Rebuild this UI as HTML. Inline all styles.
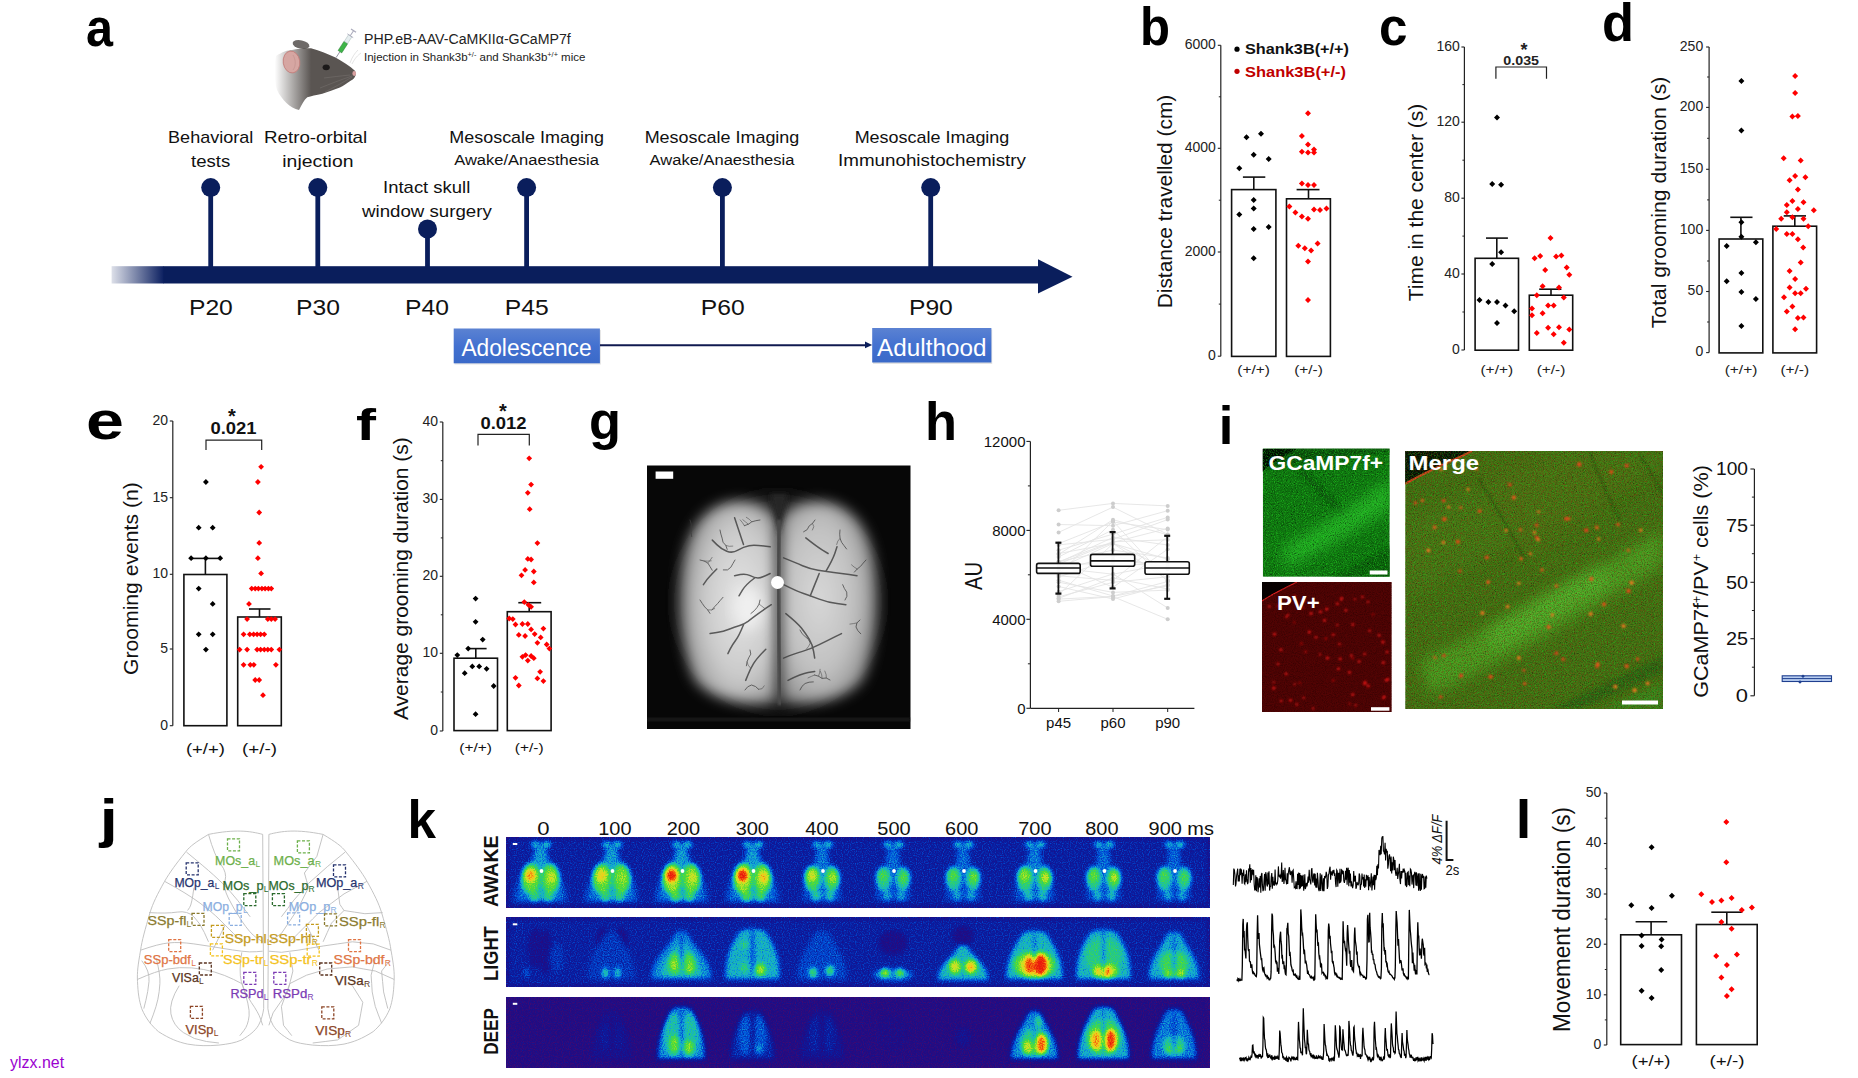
<!DOCTYPE html>
<html><head><meta charset="utf-8"><style>
html,body{margin:0;padding:0;background:#fff;width:1858px;height:1078px;overflow:hidden}
svg{display:block;font-family:"Liberation Sans", sans-serif}
</style></head><body>
<svg width="1858" height="1078" viewBox="0 0 1858 1078">
<text x="86.0" y="46.0" font-size="54" font-weight="bold" textLength="27.0" lengthAdjust="spacingAndGlyphs">a</text>
<defs>
<radialGradient id="mouseg" cx="0.55" cy="0.45" r="0.6"><stop offset="0" stop-color="#5d5a58"/><stop offset="0.7" stop-color="#4a4746"/><stop offset="1" stop-color="#9a9896"/></radialGradient>
<linearGradient id="mfade" x1="0" y1="0" x2="1" y2="0"><stop offset="0" stop-color="#fff" stop-opacity="1"/><stop offset="0.35" stop-color="#fff" stop-opacity="0"/></linearGradient>
<linearGradient id="barg" x1="0" y1="0" x2="1" y2="0"><stop offset="0" stop-color="#0b1f60" stop-opacity="0.14"/><stop offset="1" stop-color="#0b1f60" stop-opacity="1"/></linearGradient>
<linearGradient id="boxg" x1="0" y1="0" x2="0" y2="1"><stop offset="0" stop-color="#5b82d2"/><stop offset="0.5" stop-color="#4371d0"/><stop offset="1" stop-color="#3a69c8"/></linearGradient>
</defs>
<defs><linearGradient id="mfade2" x1="0" y1="0" x2="1" y2="0"><stop offset="0" stop-color="#5a5552" stop-opacity="0"/><stop offset="0.45" stop-color="#5a5552" stop-opacity="1"/></linearGradient></defs>
<ellipse cx="301" cy="44.5" rx="8.5" ry="4.2" fill="#6e6a68" transform="rotate(12 301 44.5)"/>
<path d="M276 56 C282 52 288 50 292 50 C298 48.5 305 48 311 48.3 C320 51 328 54 335.5 57.6 C343 62 350 66 354.9 70.8 C356 72.5 356 75 355.3 76 C354.5 78 353 79.5 351 80.5 C347 83 343 86 339.9 87.6 C334 90 328 92 322.3 93.7 C316 95 311 96 307.3 97.2 C304 100 302 104 299 110 C290 108 282 100 277 90 C274 80 274 65 276 56 Z" fill="url(#mfade2)"/>
<ellipse cx="291.5" cy="62" rx="8.3" ry="11" fill="#d6a6a2" stroke="#c07a76" stroke-width="0.8" transform="rotate(-8 291.5 62)"/>
<path d="M293 55 C296 60 296 66 293 70" stroke="#c49490" stroke-width="0.8" fill="none"/>
<ellipse cx="326.2" cy="67.3" rx="3.6" ry="2.9" fill="#1c1a1a"/>
<ellipse cx="354.2" cy="73.5" rx="1.8" ry="2.4" fill="#d9a0a0"/>
<g stroke="#8a8684" stroke-width="0.4" fill="none" opacity="0.8"><path d="M352 76 C340 80 330 84 320 88"/><path d="M352 77 C342 83 333 88 325 92"/><path d="M350 75 C340 76 332 77 324 78"/></g>
<g stroke="#c8c8c8" stroke-width="0.5" fill="none"><path d="M350 63 C352 57 355 53 358 50"/><path d="M352 64 C355 58 358 55 361 53"/></g>
<g transform="translate(-3 6) rotate(33 344 44)"><rect x="341.8" y="35" width="4.4" height="11" fill="#3db548" stroke="#2a6a30" stroke-width="0.4"/><rect x="342" y="27" width="4" height="8" fill="#e6eef0" stroke="#9aa" stroke-width="0.4"/><line x1="344" y1="46" x2="344" y2="53" stroke="#778" stroke-width="0.7"/><line x1="344" y1="21" x2="344" y2="27" stroke="#aab" stroke-width="1"/><line x1="341" y1="21" x2="347" y2="21" stroke="#aab" stroke-width="1.2"/><line x1="340.5" y1="27" x2="347.5" y2="27" stroke="#aab" stroke-width="0.8"/></g>
<text x="364.0" y="44.2" font-size="14" fill="#222" textLength="206.8" lengthAdjust="spacingAndGlyphs">PHP.eB-AAV-CaMKIIα-GCaMP7f</text>
<text x="364.0" y="60.6" font-size="11" fill="#222" textLength="221.4" lengthAdjust="spacingAndGlyphs">Injection in Shank3b<tspan font-size="7" dy="-4">+/-</tspan><tspan dy="4"> and Shank3b</tspan><tspan font-size="7" dy="-4">+/+</tspan><tspan dy="4"> mice</tspan></text>
<rect x="111.6" y="266.2" width="52.4" height="17.3" fill="url(#barg)"/>
<rect x="163.5" y="266.2" width="876" height="17.3" fill="#0a1e5c"/>
<path d="M1038 259.2 L1072.5 276.8 L1038 293.4 Z" fill="#0a1e5c"/>
<rect x="208.3" y="187.6" width="4.8" height="79.4" fill="#0a1e5c"/>
<circle cx="210.7" cy="187.6" r="9.5" fill="#0a1e5c"/>
<rect x="315.4" y="187.6" width="4.8" height="79.4" fill="#0a1e5c"/>
<circle cx="317.8" cy="187.6" r="9.5" fill="#0a1e5c"/>
<rect x="425.1" y="229.0" width="4.8" height="38.0" fill="#0a1e5c"/>
<circle cx="427.5" cy="229.0" r="9.5" fill="#0a1e5c"/>
<rect x="524.2" y="187.6" width="4.8" height="79.4" fill="#0a1e5c"/>
<circle cx="526.6" cy="187.6" r="9.5" fill="#0a1e5c"/>
<rect x="720.0" y="187.6" width="4.8" height="79.4" fill="#0a1e5c"/>
<circle cx="722.4" cy="187.6" r="9.5" fill="#0a1e5c"/>
<rect x="928.3" y="187.6" width="4.8" height="79.4" fill="#0a1e5c"/>
<circle cx="930.7" cy="187.6" r="9.5" fill="#0a1e5c"/>
<text x="210.7" y="143.0" font-size="17" text-anchor="middle" fill="#111" textLength="85.2" lengthAdjust="spacingAndGlyphs">Behavioral</text>
<text x="210.7" y="166.7" font-size="17" text-anchor="middle" fill="#111" textLength="39.2" lengthAdjust="spacingAndGlyphs">tests</text>
<text x="315.6" y="143.0" font-size="17" text-anchor="middle" fill="#111" textLength="103.2" lengthAdjust="spacingAndGlyphs">Retro-orbital</text>
<text x="317.9" y="166.7" font-size="17" text-anchor="middle" fill="#111" textLength="71.2" lengthAdjust="spacingAndGlyphs">injection</text>
<text x="426.7" y="193.0" font-size="17" text-anchor="middle" fill="#111" textLength="87.2" lengthAdjust="spacingAndGlyphs">Intact skull</text>
<text x="426.9" y="216.9" font-size="17" text-anchor="middle" fill="#111" textLength="129.8" lengthAdjust="spacingAndGlyphs">window surgery</text>
<text x="526.6" y="142.8" font-size="17" text-anchor="middle" fill="#111" textLength="154.7" lengthAdjust="spacingAndGlyphs">Mesoscale Imaging</text>
<text x="526.6" y="165.0" font-size="15.5" text-anchor="middle" fill="#111" textLength="144.8" lengthAdjust="spacingAndGlyphs">Awake/Anaesthesia</text>
<text x="722.0" y="142.8" font-size="17" text-anchor="middle" fill="#111" textLength="154.7" lengthAdjust="spacingAndGlyphs">Mesoscale Imaging</text>
<text x="722.0" y="165.0" font-size="15.5" text-anchor="middle" fill="#111" textLength="144.8" lengthAdjust="spacingAndGlyphs">Awake/Anaesthesia</text>
<text x="932.0" y="142.8" font-size="17" text-anchor="middle" fill="#111" textLength="154.7" lengthAdjust="spacingAndGlyphs">Mesoscale Imaging</text>
<text x="932.0" y="165.5" font-size="17" text-anchor="middle" fill="#111" textLength="188.0" lengthAdjust="spacingAndGlyphs">Immunohistochemistry</text>
<text x="210.9" y="315.0" font-size="22" text-anchor="middle" fill="#111" textLength="43.9" lengthAdjust="spacingAndGlyphs">P20</text>
<text x="318.0" y="315.0" font-size="22" text-anchor="middle" fill="#111" textLength="43.9" lengthAdjust="spacingAndGlyphs">P30</text>
<text x="427.0" y="315.0" font-size="22" text-anchor="middle" fill="#111" textLength="43.9" lengthAdjust="spacingAndGlyphs">P40</text>
<text x="526.8" y="315.0" font-size="22" text-anchor="middle" fill="#111" textLength="43.9" lengthAdjust="spacingAndGlyphs">P45</text>
<text x="722.7" y="315.0" font-size="22" text-anchor="middle" fill="#111" textLength="43.9" lengthAdjust="spacingAndGlyphs">P60</text>
<text x="930.9" y="315.0" font-size="22" text-anchor="middle" fill="#111" textLength="43.9" lengthAdjust="spacingAndGlyphs">P90</text>
<rect x="454.5" y="330" width="146.4" height="34.5" fill="#c8c8c8" opacity="0.5"/>
<rect x="453.7" y="328.5" width="146.2" height="34.8" fill="url(#boxg)"/>
<text x="526.5" y="356.3" font-size="23" text-anchor="middle" fill="#fff" textLength="130.1" lengthAdjust="spacingAndGlyphs">Adolescence</text>
<rect x="873" y="329.5" width="119.2" height="34.5" fill="#c8c8c8" opacity="0.5"/>
<rect x="872.2" y="328" width="119.2" height="34.5" fill="url(#boxg)"/>
<text x="931.8" y="356.0" font-size="23" text-anchor="middle" fill="#fff" textLength="109.4" lengthAdjust="spacingAndGlyphs">Adulthood</text>
<line x1="600.0" y1="345.2" x2="866.0" y2="345.2" stroke="#101a50" stroke-width="1.9"/>
<path d="M865 341.5 L872.2 344.9 L865 348.3 Z" fill="#0a1e5c"/>
<text x="1140.0" y="45.0" font-size="54" font-weight="bold" textLength="30.0" lengthAdjust="spacingAndGlyphs">b</text>
<line x1="1220.8" y1="45.3" x2="1220.8" y2="356.2" stroke="#222" stroke-width="1.2"/>
<line x1="1217.8" y1="45.3" x2="1220.8" y2="45.3" stroke="#222" stroke-width="1.1"/>
<text x="1215.8" y="49.1" font-size="14" text-anchor="end" fill="#222">6000</text>
<line x1="1217.8" y1="148.3" x2="1220.8" y2="148.3" stroke="#222" stroke-width="1.1"/>
<text x="1215.8" y="152.1" font-size="14" text-anchor="end" fill="#222">4000</text>
<line x1="1217.8" y1="252.0" x2="1220.8" y2="252.0" stroke="#222" stroke-width="1.1"/>
<text x="1215.8" y="255.8" font-size="14" text-anchor="end" fill="#222">2000</text>
<line x1="1217.8" y1="356.2" x2="1220.8" y2="356.2" stroke="#222" stroke-width="1.1"/>
<text x="1215.8" y="360.0" font-size="14" text-anchor="end" fill="#222">0</text>
<line x1="1218.8" y1="96.8" x2="1220.8" y2="96.8" stroke="#222" stroke-width="1"/>
<line x1="1218.8" y1="200.2" x2="1220.8" y2="200.2" stroke="#222" stroke-width="1"/>
<line x1="1218.8" y1="304.1" x2="1220.8" y2="304.1" stroke="#222" stroke-width="1"/>
<rect x="1231.6" y="189.6" width="44.3" height="166.8" fill="#fff" stroke="#111" stroke-width="1.6"/>
<line x1="1253.8" y1="177.1" x2="1253.8" y2="189.6" stroke="#111" stroke-width="1.6"/>
<line x1="1242.9" y1="177.1" x2="1265.3" y2="177.1" stroke="#111" stroke-width="1.6"/>
<rect x="1286.5" y="198.8" width="43.9" height="157.6" fill="#fff" stroke="#111" stroke-width="1.6"/>
<line x1="1308.5" y1="189.6" x2="1308.5" y2="198.8" stroke="#111" stroke-width="1.6"/>
<line x1="1296.6" y1="189.6" x2="1319.5" y2="189.6" stroke="#111" stroke-width="1.6"/>
<path d="M1246.5 134.3L1249.5 137.3L1246.5 140.3L1243.5 137.3ZM1261.0 130.7L1264.0 133.7L1261.0 136.7L1258.0 133.7ZM1253.7 151.7L1256.7 154.7L1253.7 157.7L1250.7 154.7ZM1268.7 156.0L1271.7 159.0L1268.7 162.0L1265.7 159.0ZM1239.3 165.2L1242.3 168.2L1239.3 171.2L1236.3 168.2ZM1253.7 197.0L1256.7 200.0L1253.7 203.0L1250.7 200.0ZM1253.7 205.4L1256.7 208.4L1253.7 211.4L1250.7 208.4ZM1239.3 211.5L1242.3 214.5L1239.3 217.5L1236.3 214.5ZM1253.7 225.9L1256.7 228.9L1253.7 231.9L1250.7 228.9ZM1268.7 224.0L1271.7 227.0L1268.7 230.0L1265.7 227.0ZM1253.7 255.3L1256.7 258.3L1253.7 261.3L1250.7 258.3Z" fill="#000"/>
<path d="M1308.0 110.3L1311.0 113.3L1308.0 116.3L1305.0 113.3ZM1301.9 133.1L1304.9 136.1L1301.9 139.1L1298.9 136.1ZM1308.0 141.6L1311.0 144.6L1308.0 147.6L1305.0 144.6ZM1314.0 146.4L1317.0 149.4L1314.0 152.4L1311.0 149.4ZM1301.9 148.8L1304.9 151.8L1301.9 154.8L1298.9 151.8ZM1308.0 149.5L1311.0 152.5L1308.0 155.5L1305.0 152.5ZM1314.0 149.5L1317.0 152.5L1314.0 155.5L1311.0 152.5ZM1301.9 180.6L1304.9 183.6L1301.9 186.6L1298.9 183.6ZM1308.0 182.1L1311.0 185.1L1308.0 188.1L1305.0 185.1ZM1314.0 182.1L1317.0 185.1L1314.0 188.1L1311.0 185.1ZM1289.4 203.5L1292.4 206.5L1289.4 209.5L1286.4 206.5ZM1295.4 209.5L1298.4 212.5L1295.4 215.5L1292.4 212.5ZM1301.9 213.4L1304.9 216.4L1301.9 219.4L1298.9 216.4ZM1308.0 215.8L1311.0 218.8L1308.0 221.8L1305.0 218.8ZM1314.0 206.6L1317.0 209.6L1314.0 212.6L1311.0 209.6ZM1320.0 207.1L1323.0 210.1L1320.0 213.1L1317.0 210.1ZM1326.5 205.4L1329.5 208.4L1326.5 211.4L1323.5 208.4ZM1298.3 242.8L1301.3 245.8L1298.3 248.8L1295.3 245.8ZM1304.8 245.2L1307.8 248.2L1304.8 251.2L1301.8 248.2ZM1311.1 247.6L1314.1 250.6L1311.1 253.6L1308.1 250.6ZM1317.6 240.4L1320.6 243.4L1317.6 246.4L1314.6 243.4ZM1308.0 258.4L1311.0 261.4L1308.0 264.4L1305.0 261.4ZM1308.0 297.0L1311.0 300.0L1308.0 303.0L1305.0 300.0Z" fill="#f00"/>
<text x="1253.7" y="374.3" font-size="13" text-anchor="middle" fill="#222" textLength="32.7" lengthAdjust="spacingAndGlyphs">(+/+)</text>
<text x="1308.5" y="374.3" font-size="13" text-anchor="middle" fill="#222" textLength="28.7" lengthAdjust="spacingAndGlyphs">(+/-)</text>
<text x="1172.0" y="201.5" font-size="20" text-anchor="middle" fill="#111" textLength="213.6" lengthAdjust="spacingAndGlyphs" transform="rotate(-90 1172.0 201.5)">Distance travelled (cm)</text>
<circle cx="1237" cy="49.2" r="2.6" fill="#000"/><circle cx="1237" cy="71.3" r="2.6" fill="#c00000"/>
<text x="1245.0" y="54.0" font-size="15" font-weight="bold" fill="#111" textLength="104.0" lengthAdjust="spacingAndGlyphs">Shank3B(+/+)</text>
<text x="1245.0" y="76.5" font-size="15" font-weight="bold" fill="#c00000" textLength="101.0" lengthAdjust="spacingAndGlyphs">Shank3B(+/-)</text>
<text x="1379.0" y="45.0" font-size="54" font-weight="bold" textLength="28.5" lengthAdjust="spacingAndGlyphs">c</text>
<line x1="1464.4" y1="47.0" x2="1464.4" y2="350.0" stroke="#222" stroke-width="1.2"/>
<line x1="1461.4" y1="47.0" x2="1464.4" y2="47.0" stroke="#222" stroke-width="1.1"/>
<text x="1459.8" y="50.8" font-size="14" text-anchor="end" fill="#222">160</text>
<line x1="1461.4" y1="122.2" x2="1464.4" y2="122.2" stroke="#222" stroke-width="1.1"/>
<text x="1459.8" y="126.0" font-size="14" text-anchor="end" fill="#222">120</text>
<line x1="1461.4" y1="198.2" x2="1464.4" y2="198.2" stroke="#222" stroke-width="1.1"/>
<text x="1459.8" y="202.0" font-size="14" text-anchor="end" fill="#222">80</text>
<line x1="1461.4" y1="274.0" x2="1464.4" y2="274.0" stroke="#222" stroke-width="1.1"/>
<text x="1459.8" y="277.8" font-size="14" text-anchor="end" fill="#222">40</text>
<line x1="1461.4" y1="350.0" x2="1464.4" y2="350.0" stroke="#222" stroke-width="1.1"/>
<text x="1459.8" y="353.8" font-size="14" text-anchor="end" fill="#222">0</text>
<line x1="1462.4" y1="84.6" x2="1464.4" y2="84.6" stroke="#222" stroke-width="1"/>
<line x1="1462.4" y1="160.2" x2="1464.4" y2="160.2" stroke="#222" stroke-width="1"/>
<line x1="1462.4" y1="236.1" x2="1464.4" y2="236.1" stroke="#222" stroke-width="1"/>
<line x1="1462.4" y1="312.0" x2="1464.4" y2="312.0" stroke="#222" stroke-width="1"/>
<rect x="1475.1" y="258.3" width="43.4" height="91.9" fill="#fff" stroke="#111" stroke-width="1.6"/>
<line x1="1496.8" y1="238.1" x2="1496.8" y2="258.3" stroke="#111" stroke-width="1.6"/>
<line x1="1486.0" y1="238.1" x2="1507.9" y2="238.1" stroke="#111" stroke-width="1.6"/>
<rect x="1529.3" y="295.2" width="43.4" height="55.0" fill="#fff" stroke="#111" stroke-width="1.6"/>
<line x1="1551.0" y1="289.2" x2="1551.0" y2="295.2" stroke="#111" stroke-width="1.6"/>
<line x1="1539.2" y1="289.2" x2="1561.4" y2="289.2" stroke="#111" stroke-width="1.6"/>
<path d="M1497.0 114.6L1500.0 117.6L1497.0 120.6L1494.0 117.6ZM1492.2 180.9L1495.2 183.9L1492.2 186.9L1489.2 183.9ZM1501.1 181.8L1504.1 184.8L1501.1 187.8L1498.1 184.8ZM1501.1 249.3L1504.1 252.3L1501.1 255.3L1498.1 252.3ZM1492.2 260.9L1495.2 263.9L1492.2 266.9L1489.2 263.9ZM1479.5 297.0L1482.5 300.0L1479.5 303.0L1476.5 300.0ZM1488.4 298.9L1491.4 301.9L1488.4 304.9L1485.4 301.9ZM1497.0 298.9L1500.0 301.9L1497.0 304.9L1494.0 301.9ZM1505.5 302.5L1508.5 305.5L1505.5 308.5L1502.5 305.5ZM1514.2 308.3L1517.2 311.3L1514.2 314.3L1511.2 311.3ZM1497.0 319.9L1500.0 322.9L1497.0 325.9L1494.0 322.9Z" fill="#000"/>
<path d="M1550.5 235.1L1553.5 238.1L1550.5 241.1L1547.5 238.1ZM1534.6 255.3L1537.6 258.3L1534.6 261.3L1531.6 258.3ZM1540.2 253.1L1543.2 256.1L1540.2 259.1L1537.2 256.1ZM1556.1 253.6L1559.1 256.6L1556.1 259.6L1553.1 256.6ZM1561.4 252.4L1564.4 255.4L1561.4 258.4L1558.4 255.4ZM1545.2 266.9L1548.2 269.9L1545.2 272.9L1542.2 269.9ZM1566.7 264.5L1569.7 267.5L1566.7 270.5L1563.7 267.5ZM1569.3 271.7L1572.3 274.7L1569.3 277.7L1566.3 274.7ZM1542.6 283.3L1545.6 286.3L1542.6 289.3L1539.6 286.3ZM1559.0 284.5L1562.0 287.5L1559.0 290.5L1556.0 287.5ZM1536.8 292.2L1539.8 295.2L1536.8 298.2L1533.8 295.2ZM1563.8 294.6L1566.8 297.6L1563.8 300.6L1560.8 297.6ZM1548.1 302.5L1551.1 305.5L1548.1 308.5L1545.1 305.5ZM1553.7 302.5L1556.7 305.5L1553.7 308.5L1550.7 305.5ZM1532.0 305.4L1535.0 308.4L1532.0 311.4L1529.0 308.4ZM1532.0 312.2L1535.0 315.2L1532.0 318.2L1529.0 315.2ZM1542.6 310.3L1545.6 313.3L1542.6 316.3L1539.6 313.3ZM1548.1 324.7L1551.1 327.7L1548.1 330.7L1545.1 327.7ZM1559.0 324.2L1562.0 327.2L1559.0 330.2L1556.0 327.2ZM1569.3 326.4L1572.3 329.4L1569.3 332.4L1566.3 329.4ZM1536.8 330.0L1539.8 333.0L1536.8 336.0L1533.8 333.0ZM1553.7 331.2L1556.7 334.2L1553.7 337.2L1550.7 334.2ZM1563.8 339.7L1566.8 342.7L1563.8 345.7L1560.8 342.7Z" fill="#f00"/>
<text x="1496.8" y="374.3" font-size="13" text-anchor="middle" fill="#222" textLength="32.7" lengthAdjust="spacingAndGlyphs">(+/+)</text>
<text x="1551.0" y="374.3" font-size="13" text-anchor="middle" fill="#222" textLength="28.7" lengthAdjust="spacingAndGlyphs">(+/-)</text>
<text x="1422.5" y="202.5" font-size="20" text-anchor="middle" fill="#111" textLength="197.6" lengthAdjust="spacingAndGlyphs" transform="rotate(-90 1422.5 202.5)">Time in the center (s)</text>
<path d="M1495.9 78.8 V67 H1546.5 V78.8" fill="none" stroke="#222" stroke-width="1.2"/>
<text x="1521.2" y="65.0" font-size="13" text-anchor="middle" font-weight="bold" fill="#222" textLength="35.7" lengthAdjust="spacingAndGlyphs">0.035</text>
<text x="1524.0" y="56.0" font-size="18" text-anchor="middle" font-weight="bold" fill="#222">*</text>
<text x="1602.0" y="40.5" font-size="54" font-weight="bold" textLength="32.0" lengthAdjust="spacingAndGlyphs">d</text>
<line x1="1709.1" y1="47.0" x2="1709.1" y2="352.6" stroke="#222" stroke-width="1.2"/>
<line x1="1706.1" y1="47.0" x2="1709.1" y2="47.0" stroke="#222" stroke-width="1.1"/>
<text x="1703.2" y="50.8" font-size="14" text-anchor="end" fill="#222">250</text>
<line x1="1706.1" y1="107.4" x2="1709.1" y2="107.4" stroke="#222" stroke-width="1.1"/>
<text x="1703.2" y="111.2" font-size="14" text-anchor="end" fill="#222">200</text>
<line x1="1706.1" y1="169.3" x2="1709.1" y2="169.3" stroke="#222" stroke-width="1.1"/>
<text x="1703.2" y="173.1" font-size="14" text-anchor="end" fill="#222">150</text>
<line x1="1706.1" y1="230.4" x2="1709.1" y2="230.4" stroke="#222" stroke-width="1.1"/>
<text x="1703.2" y="234.2" font-size="14" text-anchor="end" fill="#222">100</text>
<line x1="1706.1" y1="291.5" x2="1709.1" y2="291.5" stroke="#222" stroke-width="1.1"/>
<text x="1703.2" y="295.3" font-size="14" text-anchor="end" fill="#222">50</text>
<line x1="1706.1" y1="352.6" x2="1709.1" y2="352.6" stroke="#222" stroke-width="1.1"/>
<text x="1703.2" y="356.4" font-size="14" text-anchor="end" fill="#222">0</text>
<line x1="1707.1" y1="77.0" x2="1709.1" y2="77.0" stroke="#222" stroke-width="1"/>
<line x1="1707.1" y1="138.3" x2="1709.1" y2="138.3" stroke="#222" stroke-width="1"/>
<line x1="1707.1" y1="199.9" x2="1709.1" y2="199.9" stroke="#222" stroke-width="1"/>
<line x1="1707.1" y1="261.0" x2="1709.1" y2="261.0" stroke="#222" stroke-width="1"/>
<line x1="1707.1" y1="322.0" x2="1709.1" y2="322.0" stroke="#222" stroke-width="1"/>
<rect x="1719.1" y="239.0" width="43.7" height="113.9" fill="#fff" stroke="#111" stroke-width="1.6"/>
<line x1="1740.9" y1="217.3" x2="1740.9" y2="239.0" stroke="#111" stroke-width="1.6"/>
<line x1="1730.3" y1="217.3" x2="1752.5" y2="217.3" stroke="#111" stroke-width="1.6"/>
<rect x="1772.9" y="226.2" width="43.7" height="126.7" fill="#fff" stroke="#111" stroke-width="1.6"/>
<line x1="1794.8" y1="215.9" x2="1794.8" y2="226.2" stroke="#111" stroke-width="1.6"/>
<line x1="1783.7" y1="215.9" x2="1806.0" y2="215.9" stroke="#111" stroke-width="1.6"/>
<path d="M1741.4 77.9L1744.4 80.9L1741.4 83.9L1738.4 80.9ZM1741.4 127.4L1744.4 130.4L1741.4 133.4L1738.4 130.4ZM1741.4 219.3L1744.4 222.3L1741.4 225.3L1738.4 222.3ZM1741.4 233.8L1744.4 236.8L1741.4 239.8L1738.4 236.8ZM1726.7 243.0L1729.7 246.0L1726.7 249.0L1723.7 246.0ZM1755.9 239.3L1758.9 242.3L1755.9 245.3L1752.9 242.3ZM1741.4 270.0L1744.4 273.0L1741.4 276.0L1738.4 273.0ZM1726.7 278.3L1729.7 281.3L1726.7 284.3L1723.7 281.3ZM1741.4 288.9L1744.4 291.9L1741.4 294.9L1738.4 291.9ZM1755.9 295.9L1758.9 298.9L1755.9 301.9L1752.9 298.9ZM1741.4 322.9L1744.4 325.9L1741.4 328.9L1738.4 325.9Z" fill="#000"/>
<path d="M1795.1 72.9L1798.1 75.9L1795.1 78.9L1792.1 75.9ZM1795.1 89.9L1798.1 92.9L1795.1 95.9L1792.1 92.9ZM1792.4 113.5L1795.4 116.5L1792.4 119.5L1789.4 116.5ZM1797.9 113.0L1800.9 116.0L1797.9 119.0L1794.9 116.0ZM1783.7 155.3L1786.7 158.3L1783.7 161.3L1780.7 158.3ZM1800.7 157.5L1803.7 160.5L1800.7 163.5L1797.7 160.5ZM1795.1 173.1L1798.1 176.1L1795.1 179.1L1792.1 176.1ZM1789.6 177.3L1792.6 180.3L1789.6 183.3L1786.6 180.3ZM1805.4 174.2L1808.4 177.2L1805.4 180.2L1802.4 177.2ZM1797.9 186.5L1800.9 189.5L1797.9 192.5L1794.9 189.5ZM1792.4 198.1L1795.4 201.1L1792.4 204.1L1789.4 201.1ZM1786.8 202.0L1789.8 205.0L1786.8 208.0L1783.8 205.0ZM1803.5 199.3L1806.5 202.3L1803.5 205.3L1800.5 202.3ZM1797.9 205.9L1800.9 208.9L1797.9 211.9L1794.9 208.9ZM1813.8 207.3L1816.8 210.3L1813.8 213.3L1810.8 210.3ZM1786.8 209.3L1789.8 212.3L1786.8 215.3L1783.8 212.3ZM1792.4 214.3L1795.4 217.3L1792.4 220.3L1789.4 217.3ZM1781.2 215.7L1784.2 218.7L1781.2 221.7L1778.2 218.7ZM1803.5 215.7L1806.5 218.7L1803.5 221.7L1800.5 218.7ZM1808.2 223.2L1811.2 226.2L1808.2 229.2L1805.2 226.2ZM1776.2 226.0L1779.2 229.0L1776.2 232.0L1773.2 229.0ZM1786.8 231.0L1789.8 234.0L1786.8 237.0L1783.8 234.0ZM1792.4 231.0L1795.4 234.0L1792.4 237.0L1789.4 234.0ZM1797.9 236.3L1800.9 239.3L1797.9 242.3L1794.9 239.3ZM1803.2 244.4L1806.2 247.4L1803.2 250.4L1800.2 247.4ZM1800.7 259.4L1803.7 262.4L1800.7 265.4L1797.7 262.4ZM1789.6 268.0L1792.6 271.0L1789.6 274.0L1786.6 271.0ZM1795.1 276.1L1798.1 279.1L1795.1 282.1L1792.1 279.1ZM1789.6 284.4L1792.6 287.4L1789.6 290.4L1786.6 287.4ZM1795.1 290.3L1798.1 293.3L1795.1 296.3L1792.1 293.3ZM1800.7 290.3L1803.7 293.3L1800.7 296.3L1797.7 293.3ZM1806.0 285.8L1809.0 288.8L1806.0 291.8L1803.0 288.8ZM1784.0 294.2L1787.0 297.2L1784.0 300.2L1781.0 297.2ZM1792.4 303.4L1795.4 306.4L1792.4 309.4L1789.4 306.4ZM1786.8 308.4L1789.8 311.4L1786.8 314.4L1783.8 311.4ZM1797.9 315.1L1800.9 318.1L1797.9 321.1L1794.9 318.1ZM1803.5 314.5L1806.5 317.5L1803.5 320.5L1800.5 317.5ZM1795.1 326.2L1798.1 329.2L1795.1 332.2L1792.1 329.2Z" fill="#f00"/>
<text x="1741.0" y="374.3" font-size="13" text-anchor="middle" fill="#222" textLength="32.7" lengthAdjust="spacingAndGlyphs">(+/+)</text>
<text x="1794.8" y="374.3" font-size="13" text-anchor="middle" fill="#222" textLength="28.7" lengthAdjust="spacingAndGlyphs">(+/-)</text>
<text x="1666.5" y="202.4" font-size="20" text-anchor="middle" fill="#111" textLength="251.6" lengthAdjust="spacingAndGlyphs" transform="rotate(-90 1666.5 202.4)">Total grooming duration (s)</text>
<text x="86.0" y="438.5" font-size="54" font-weight="bold" textLength="38.0" lengthAdjust="spacingAndGlyphs">e</text>
<line x1="172.8" y1="421.0" x2="172.8" y2="725.7" stroke="#222" stroke-width="1.2"/>
<line x1="169.8" y1="421.0" x2="172.8" y2="421.0" stroke="#222" stroke-width="1.1"/>
<text x="168.0" y="424.8" font-size="14" text-anchor="end" fill="#222">20</text>
<line x1="169.8" y1="497.7" x2="172.8" y2="497.7" stroke="#222" stroke-width="1.1"/>
<text x="168.0" y="501.5" font-size="14" text-anchor="end" fill="#222">15</text>
<line x1="169.8" y1="574.3" x2="172.8" y2="574.3" stroke="#222" stroke-width="1.1"/>
<text x="168.0" y="578.1" font-size="14" text-anchor="end" fill="#222">10</text>
<line x1="169.8" y1="649.0" x2="172.8" y2="649.0" stroke="#222" stroke-width="1.1"/>
<text x="168.0" y="652.8" font-size="14" text-anchor="end" fill="#222">5</text>
<line x1="169.8" y1="725.7" x2="172.8" y2="725.7" stroke="#222" stroke-width="1.1"/>
<text x="168.0" y="729.5" font-size="14" text-anchor="end" fill="#222">0</text>
<rect x="183.9" y="574.5" width="43.0" height="151.2" fill="#fff" stroke="#111" stroke-width="1.6"/>
<line x1="205.4" y1="558.4" x2="205.4" y2="574.5" stroke="#111" stroke-width="1.6"/>
<line x1="191.0" y1="558.4" x2="220.7" y2="558.4" stroke="#111" stroke-width="1.6"/>
<rect x="237.7" y="617.0" width="43.6" height="108.7" fill="#fff" stroke="#111" stroke-width="1.6"/>
<line x1="259.5" y1="609.0" x2="259.5" y2="617.0" stroke="#111" stroke-width="1.6"/>
<line x1="249.0" y1="609.0" x2="270.5" y2="609.0" stroke="#111" stroke-width="1.6"/>
<path d="M205.9 479.1L208.8 482.0L205.9 484.9L203.0 482.0ZM198.7 524.8L201.6 527.7L198.7 530.6L195.8 527.7ZM212.7 524.8L215.6 527.7L212.7 530.6L209.8 527.7ZM191.1 555.3L194.0 558.2L191.1 561.1L188.2 558.2ZM205.9 555.3L208.8 558.2L205.9 561.1L203.0 558.2ZM220.2 555.3L223.1 558.2L220.2 561.1L217.3 558.2ZM198.7 585.7L201.6 588.6L198.7 591.5L195.8 588.6ZM212.7 601.0L215.6 603.9L212.7 606.8L209.8 603.9ZM198.7 631.4L201.6 634.3L198.7 637.2L195.8 634.3ZM212.7 631.4L215.6 634.3L212.7 637.2L209.8 634.3ZM205.9 646.7L208.8 649.6L205.9 652.5L203.0 649.6Z" fill="#000"/>
<path d="M261.1 463.9L264.0 466.8L261.1 469.7L258.2 466.8ZM257.9 479.1L260.8 482.0L257.9 484.9L255.0 482.0ZM259.2 509.6L262.1 512.5L259.2 515.4L256.3 512.5ZM259.2 540.0L262.1 542.9L259.2 545.8L256.3 542.9ZM257.9 555.3L260.8 558.2L257.9 561.1L255.0 558.2ZM261.1 570.5L264.0 573.4L261.1 576.3L258.2 573.4ZM251.7 585.7L254.6 588.6L251.7 591.5L248.8 588.6ZM255.2 585.7L258.1 588.6L255.2 591.5L252.3 588.6ZM258.4 585.7L261.3 588.6L258.4 591.5L255.5 588.6ZM261.9 585.7L264.8 588.6L261.9 591.5L259.0 588.6ZM265.1 585.7L268.0 588.6L265.1 591.5L262.2 588.6ZM268.4 585.7L271.3 588.6L268.4 591.5L265.5 588.6ZM271.3 585.7L274.2 588.6L271.3 591.5L268.4 588.6ZM249.0 601.0L251.9 603.9L249.0 606.8L246.1 603.9ZM247.1 616.2L250.0 619.1L247.1 622.0L244.2 619.1ZM267.8 616.2L270.7 619.1L267.8 622.0L264.9 619.1ZM271.3 616.2L274.2 619.1L271.3 622.0L268.4 619.1ZM275.1 616.2L278.0 619.1L275.1 622.0L272.2 619.1ZM243.6 631.4L246.5 634.3L243.6 637.2L240.7 634.3ZM249.8 631.4L252.7 634.3L249.8 637.2L246.9 634.3ZM253.6 631.4L256.5 634.3L253.6 637.2L250.7 634.3ZM257.1 631.4L260.0 634.3L257.1 637.2L254.2 634.3ZM260.6 631.4L263.5 634.3L260.6 637.2L257.7 634.3ZM264.3 631.4L267.2 634.3L264.3 637.2L261.4 634.3ZM239.6 646.7L242.5 649.6L239.6 652.5L236.7 649.6ZM247.1 646.7L250.0 649.6L247.1 652.5L244.2 649.6ZM257.1 646.7L260.0 649.6L257.1 652.5L254.2 649.6ZM260.6 646.7L263.5 649.6L260.6 652.5L257.7 649.6ZM264.3 646.7L267.2 649.6L264.3 652.5L261.4 649.6ZM267.8 646.7L270.7 649.6L267.8 652.5L264.9 649.6ZM271.3 646.7L274.2 649.6L271.3 652.5L268.4 649.6ZM279.4 646.7L282.3 649.6L279.4 652.5L276.5 649.6ZM243.6 661.9L246.5 664.8L243.6 667.7L240.7 664.8ZM250.3 661.9L253.2 664.8L250.3 667.7L247.4 664.8ZM253.8 661.9L256.7 664.8L253.8 667.7L250.9 664.8ZM275.9 661.9L278.8 664.8L275.9 667.7L273.0 664.8ZM255.2 677.1L258.1 680.0L255.2 682.9L252.3 680.0ZM259.2 677.1L262.1 680.0L259.2 682.9L256.3 680.0ZM263.0 692.3L265.9 695.2L263.0 698.1L260.1 695.2Z" fill="#f00"/>
<text x="205.4" y="753.5" font-size="15" text-anchor="middle" fill="#111" textLength="39.0" lengthAdjust="spacingAndGlyphs">(+/+)</text>
<text x="259.5" y="753.5" font-size="15" text-anchor="middle" fill="#111" textLength="35.0" lengthAdjust="spacingAndGlyphs">(+/-)</text>
<text x="138.5" y="578.6" font-size="21" text-anchor="middle" fill="#111" textLength="192.7" lengthAdjust="spacingAndGlyphs" transform="rotate(-90 138.5 578.6)">Grooming events (n)</text>
<path d="M206 450 V440.2 H261.7 V450" fill="none" stroke="#222" stroke-width="1.2"/>
<text x="233.5" y="434.0" font-size="16" text-anchor="middle" font-weight="bold" fill="#111" textLength="46.1" lengthAdjust="spacingAndGlyphs">0.021</text>
<text x="232.0" y="423.0" font-size="20" text-anchor="middle" font-weight="bold" fill="#111">*</text>
<text x="356.0" y="439.5" font-size="44" font-weight="bold" textLength="20.0" lengthAdjust="spacingAndGlyphs">f</text>
<line x1="442.8" y1="422.0" x2="442.8" y2="731.0" stroke="#222" stroke-width="1.2"/>
<line x1="439.8" y1="422.0" x2="442.8" y2="422.0" stroke="#222" stroke-width="1.1"/>
<text x="438.0" y="425.8" font-size="14" text-anchor="end" fill="#222">40</text>
<line x1="439.8" y1="499.4" x2="442.8" y2="499.4" stroke="#222" stroke-width="1.1"/>
<text x="438.0" y="503.2" font-size="14" text-anchor="end" fill="#222">30</text>
<line x1="439.8" y1="576.3" x2="442.8" y2="576.3" stroke="#222" stroke-width="1.1"/>
<text x="438.0" y="580.1" font-size="14" text-anchor="end" fill="#222">20</text>
<line x1="439.8" y1="653.3" x2="442.8" y2="653.3" stroke="#222" stroke-width="1.1"/>
<text x="438.0" y="657.1" font-size="14" text-anchor="end" fill="#222">10</text>
<line x1="439.8" y1="731.0" x2="442.8" y2="731.0" stroke="#222" stroke-width="1.1"/>
<text x="438.0" y="734.8" font-size="14" text-anchor="end" fill="#222">0</text>
<line x1="440.8" y1="460.7" x2="442.8" y2="460.7" stroke="#222" stroke-width="1"/>
<line x1="440.8" y1="537.9" x2="442.8" y2="537.9" stroke="#222" stroke-width="1"/>
<line x1="440.8" y1="614.8" x2="442.8" y2="614.8" stroke="#222" stroke-width="1"/>
<line x1="440.8" y1="692.0" x2="442.8" y2="692.0" stroke="#222" stroke-width="1"/>
<rect x="454.0" y="658.2" width="43.5" height="72.4" fill="#fff" stroke="#111" stroke-width="1.6"/>
<line x1="475.8" y1="648.6" x2="475.8" y2="658.2" stroke="#111" stroke-width="1.6"/>
<line x1="467.4" y1="648.6" x2="486.6" y2="648.6" stroke="#111" stroke-width="1.6"/>
<rect x="507.3" y="611.7" width="43.8" height="118.9" fill="#fff" stroke="#111" stroke-width="1.6"/>
<line x1="529.2" y1="602.7" x2="529.2" y2="611.7" stroke="#111" stroke-width="1.6"/>
<line x1="518.3" y1="602.7" x2="541.2" y2="602.7" stroke="#111" stroke-width="1.6"/>
<path d="M475.6 595.7L478.5 598.6L475.6 601.5L472.7 598.6ZM475.6 618.9L478.5 621.8L475.6 624.7L472.7 621.8ZM482.7 636.7L485.6 639.6L482.7 642.5L479.8 639.6ZM468.2 645.7L471.1 648.6L468.2 651.5L465.3 648.6ZM457.3 652.2L460.2 655.1L457.3 658.0L454.4 655.1ZM472.3 663.5L475.2 666.4L472.3 669.3L469.4 666.4ZM479.2 663.5L482.1 666.4L479.2 669.3L476.3 666.4ZM486.6 665.9L489.5 668.8L486.6 671.7L483.7 668.8ZM464.7 670.3L467.6 673.2L464.7 676.1L461.8 673.2ZM493.7 683.1L496.6 686.0L493.7 688.9L490.8 686.0ZM475.6 711.3L478.5 714.2L475.6 717.1L472.7 714.2Z" fill="#000"/>
<path d="M529.2 455.4L532.1 458.3L529.2 461.2L526.3 458.3ZM531.1 481.7L534.0 484.6L531.1 487.5L528.2 484.6ZM527.8 489.9L530.7 492.8L527.8 495.7L524.9 492.8ZM529.7 506.3L532.6 509.2L529.7 512.1L526.8 509.2ZM537.4 540.2L540.3 543.1L537.4 546.0L534.5 543.1ZM527.8 556.0L530.7 558.9L527.8 561.8L524.9 558.9ZM531.1 556.6L534.0 559.5L531.1 562.4L528.2 559.5ZM525.1 567.0L528.0 569.9L525.1 572.8L522.2 569.9ZM521.5 572.4L524.4 575.3L521.5 578.2L518.6 575.3ZM533.8 568.6L536.7 571.5L533.8 574.4L530.9 571.5ZM533.8 579.5L536.7 582.4L533.8 585.3L530.9 582.4ZM524.3 599.2L527.2 602.1L524.3 605.0L521.4 602.1ZM528.4 601.9L531.3 604.8L528.4 607.7L525.5 604.8ZM531.1 603.9L534.0 606.8L531.1 609.7L528.2 606.8ZM509.2 615.6L512.1 618.5L509.2 621.4L506.3 618.5ZM512.8 616.2L515.7 619.1L512.8 622.0L509.9 619.1ZM515.5 621.6L518.4 624.5L515.5 627.4L512.6 624.5ZM522.4 621.1L525.3 624.0L522.4 626.9L519.5 624.0ZM527.8 621.1L530.7 624.0L527.8 626.9L524.9 624.0ZM531.1 626.5L534.0 629.4L531.1 632.3L528.2 629.4ZM534.7 631.2L537.6 634.1L534.7 637.0L531.8 634.1ZM543.4 625.7L546.3 628.6L543.4 631.5L540.5 628.6ZM518.8 632.0L521.7 634.9L518.8 637.8L515.9 634.9ZM525.1 633.1L528.0 636.0L525.1 638.9L522.2 636.0ZM540.7 634.5L543.6 637.4L540.7 640.3L537.8 637.4ZM537.4 639.9L540.3 642.8L537.4 645.7L534.5 642.8ZM546.7 641.6L549.6 644.5L546.7 647.4L543.8 644.5ZM549.4 645.7L552.3 648.6L549.4 651.5L546.5 648.6ZM522.4 653.9L525.3 656.8L522.4 659.7L519.5 656.8ZM525.6 652.2L528.5 655.1L525.6 658.0L522.7 655.1ZM527.8 657.7L530.7 660.6L527.8 663.5L524.9 660.6ZM531.1 653.1L534.0 656.0L531.1 658.9L528.2 656.0ZM533.8 655.3L536.7 658.2L533.8 661.1L530.9 658.2ZM540.1 668.9L543.0 671.8L540.1 674.7L537.2 671.8ZM515.5 674.9L518.4 677.8L515.5 680.7L512.6 677.8ZM537.4 675.5L540.3 678.4L537.4 681.3L534.5 678.4ZM543.4 678.2L546.3 681.1L543.4 684.0L540.5 681.1ZM518.8 682.6L521.7 685.5L518.8 688.4L515.9 685.5Z" fill="#f00"/>
<text x="475.7" y="751.8" font-size="13" text-anchor="middle" fill="#111" textLength="32.7" lengthAdjust="spacingAndGlyphs">(+/+)</text>
<text x="529.2" y="751.8" font-size="13" text-anchor="middle" fill="#111" textLength="28.7" lengthAdjust="spacingAndGlyphs">(+/-)</text>
<text x="408.0" y="578.6" font-size="21" text-anchor="middle" fill="#111" textLength="282.7" lengthAdjust="spacingAndGlyphs" transform="rotate(-90 408.0 578.6)">Average grooming duration (s)</text>
<path d="M478 445.5 V434.3 H529.3 V445.5" fill="none" stroke="#222" stroke-width="1.2"/>
<text x="503.5" y="428.8" font-size="16" text-anchor="middle" font-weight="bold" fill="#111" textLength="46.1" lengthAdjust="spacingAndGlyphs">0.012</text>
<text x="503.0" y="418.0" font-size="20" text-anchor="middle" font-weight="bold" fill="#111">*</text>
<text x="1515.8" y="837.5" font-size="54" font-weight="bold" textLength="15.6" lengthAdjust="spacingAndGlyphs">l</text>
<line x1="1606.8" y1="793.0" x2="1606.8" y2="1045.0" stroke="#222" stroke-width="1.2"/>
<line x1="1603.8" y1="793.0" x2="1606.8" y2="793.0" stroke="#222" stroke-width="1.1"/>
<text x="1601.3" y="796.8" font-size="14" text-anchor="end" fill="#222">50</text>
<line x1="1603.8" y1="843.5" x2="1606.8" y2="843.5" stroke="#222" stroke-width="1.1"/>
<text x="1601.3" y="847.3" font-size="14" text-anchor="end" fill="#222">40</text>
<line x1="1603.8" y1="894.0" x2="1606.8" y2="894.0" stroke="#222" stroke-width="1.1"/>
<text x="1601.3" y="897.8" font-size="14" text-anchor="end" fill="#222">30</text>
<line x1="1603.8" y1="944.2" x2="1606.8" y2="944.2" stroke="#222" stroke-width="1.1"/>
<text x="1601.3" y="948.0" font-size="14" text-anchor="end" fill="#222">20</text>
<line x1="1603.8" y1="994.8" x2="1606.8" y2="994.8" stroke="#222" stroke-width="1.1"/>
<text x="1601.3" y="998.6" font-size="14" text-anchor="end" fill="#222">10</text>
<line x1="1603.8" y1="1045.0" x2="1606.8" y2="1045.0" stroke="#222" stroke-width="1.1"/>
<text x="1601.3" y="1048.8" font-size="14" text-anchor="end" fill="#222">0</text>
<line x1="1604.8" y1="818.2" x2="1606.8" y2="818.2" stroke="#222" stroke-width="1"/>
<line x1="1604.8" y1="868.7" x2="1606.8" y2="868.7" stroke="#222" stroke-width="1"/>
<line x1="1604.8" y1="919.1" x2="1606.8" y2="919.1" stroke="#222" stroke-width="1"/>
<line x1="1604.8" y1="969.5" x2="1606.8" y2="969.5" stroke="#222" stroke-width="1"/>
<line x1="1604.8" y1="1019.9" x2="1606.8" y2="1019.9" stroke="#222" stroke-width="1"/>
<rect x="1620.7" y="934.8" width="60.8" height="109.8" fill="#fff" stroke="#111" stroke-width="1.6"/>
<line x1="1651.1" y1="921.8" x2="1651.1" y2="934.8" stroke="#111" stroke-width="1.6"/>
<line x1="1635.6" y1="921.8" x2="1667.2" y2="921.8" stroke="#111" stroke-width="1.6"/>
<rect x="1696.4" y="924.5" width="60.8" height="120.1" fill="#fff" stroke="#111" stroke-width="1.6"/>
<line x1="1726.8" y1="912.2" x2="1726.8" y2="924.5" stroke="#111" stroke-width="1.6"/>
<line x1="1711.3" y1="912.2" x2="1742.3" y2="912.2" stroke="#111" stroke-width="1.6"/>
<path d="M1651.6 844.3L1654.6 847.3L1651.6 850.3L1648.6 847.3ZM1671.9 892.7L1674.9 895.7L1671.9 898.7L1668.9 895.7ZM1631.3 902.3L1634.3 905.3L1631.3 908.3L1628.3 905.3ZM1651.6 904.9L1654.6 907.9L1651.6 910.9L1648.6 907.9ZM1641.6 932.6L1644.6 935.6L1641.6 938.6L1638.6 935.6ZM1661.6 936.5L1664.6 939.5L1661.6 942.5L1658.6 939.5ZM1641.6 942.9L1644.6 945.9L1641.6 948.9L1638.6 945.9ZM1661.2 943.3L1664.2 946.3L1661.2 949.3L1658.2 946.3ZM1661.2 967.0L1664.2 970.0L1661.2 973.0L1658.2 970.0ZM1641.6 987.7L1644.6 990.7L1641.6 993.7L1638.6 990.7ZM1651.6 995.1L1654.6 998.1L1651.6 1001.1L1648.6 998.1Z" fill="#000"/>
<path d="M1726.3 819.1L1729.3 822.1L1726.3 825.1L1723.3 822.1ZM1726.3 859.2L1729.3 862.2L1726.3 865.2L1723.3 862.2ZM1701.3 891.2L1704.3 894.2L1701.3 897.2L1698.3 894.2ZM1712.0 899.1L1715.0 902.1L1712.0 905.1L1709.0 902.1ZM1721.4 897.6L1724.4 900.6L1721.4 903.6L1718.4 900.6ZM1731.6 894.9L1734.6 897.9L1731.6 900.9L1728.6 897.9ZM1741.8 907.0L1744.8 910.0L1741.8 913.0L1738.8 910.0ZM1751.9 904.5L1754.9 907.5L1751.9 910.5L1748.9 907.5ZM1721.4 919.0L1724.4 922.0L1721.4 925.0L1718.4 922.0ZM1731.6 925.8L1734.6 928.8L1731.6 931.8L1728.6 928.8ZM1716.2 953.1L1719.2 956.1L1716.2 959.1L1713.2 956.1ZM1736.9 951.4L1739.9 954.4L1736.9 957.4L1733.9 954.4ZM1726.9 962.1L1729.9 965.1L1726.9 968.1L1723.9 965.1ZM1721.4 974.4L1724.4 977.4L1721.4 980.4L1718.4 977.4ZM1731.6 986.2L1734.6 989.2L1731.6 992.2L1728.6 989.2ZM1726.9 993.0L1729.9 996.0L1726.9 999.0L1723.9 996.0Z" fill="#f00"/>
<text x="1651.0" y="1066.0" font-size="15" text-anchor="middle" fill="#111" textLength="39.0" lengthAdjust="spacingAndGlyphs">(+/+)</text>
<text x="1727.0" y="1066.0" font-size="15" text-anchor="middle" fill="#111" textLength="35.0" lengthAdjust="spacingAndGlyphs">(+/-)</text>
<text x="1570.0" y="919.5" font-size="23" text-anchor="middle" fill="#111" textLength="225.0" lengthAdjust="spacingAndGlyphs" transform="rotate(-90 1570.0 919.5)">Movement duration (s)</text>
<text x="10.0" y="1067.8" font-size="16" fill="#9a00d0" textLength="54.1" lengthAdjust="spacingAndGlyphs">ylzx.net</text>
<text x="589.0" y="439.0" font-size="54" font-weight="bold" textLength="32.0" lengthAdjust="spacingAndGlyphs">g</text>
<defs>
<filter id="gb8" x="-30%" y="-30%" width="160%" height="160%"><feGaussianBlur stdDeviation="7"/></filter>
<filter id="gb7" x="-30%" y="-30%" width="160%" height="160%"><feGaussianBlur stdDeviation="6.5"/></filter>
<filter id="gb5" x="-30%" y="-30%" width="160%" height="160%"><feGaussianBlur stdDeviation="5"/></filter>
<filter id="gb3" x="-30%" y="-30%" width="160%" height="160%"><feGaussianBlur stdDeviation="2.5"/></filter>
<filter id="gb1" x="-30%" y="-30%" width="160%" height="160%"><feGaussianBlur stdDeviation="0.8"/></filter>
<clipPath id="gclip"><rect x="647" y="465.5" width="263.5" height="263.5"/></clipPath>
</defs>
<rect x="647.0" y="465.5" width="263.5" height="263.5" fill="#070707"/>
<g clip-path="url(#gclip)">
<ellipse cx="778" cy="602" rx="104" ry="108" fill="#1c1c1c" filter="url(#gb8)"/>
<defs><radialGradient id="hemL" cx="0.62" cy="0.5" r="0.62"><stop offset="0" stop-color="#e6e6e6"/><stop offset="0.6" stop-color="#cacaca"/><stop offset="0.88" stop-color="#a4a4a4"/><stop offset="1" stop-color="#7c7c7c"/></radialGradient><radialGradient id="hemR" cx="0.4" cy="0.48" r="0.62"><stop offset="0" stop-color="#d8d8d8"/><stop offset="0.6" stop-color="#c0c0c0"/><stop offset="0.88" stop-color="#9a9a9a"/><stop offset="1" stop-color="#747474"/></radialGradient></defs>
<path d="M776 522 C771 506 752 500 732 502 C706 506 689 526 683 560 C678 600 680 650 694 679 C710 700 745 707 776 701 Z" fill="url(#hemL)" filter="url(#gb7)"/>
<path d="M781 522 C786 506 805 500 825 502 C851 506 868 526 874 560 C879 600 877 650 863 679 C847 700 812 707 781 701 Z" fill="url(#hemR)" filter="url(#gb7)"/>
<ellipse cx="748" cy="608" rx="14" ry="22" fill="#f0f0f0" filter="url(#gb8)"/>
<path d="M770 494 L788 494 L779 535 Z" fill="#262626" filter="url(#gb3)"/>
<path d="M779 520 C778 560 778 610 779 650 C780 675 780 690 780 705" stroke="#4a4a4a" stroke-width="4.5" fill="none" filter="url(#gb1)"/>
<g stroke="#3c3c3c" fill="none" opacity="0.8" stroke-linecap="round"><path d="M725.8 545.4 L729.2 546.3 L732.8 546.1" stroke-width="0.63"/><path d="M720.0 530.0 L720.9 534.1 L722.1 538.1 L723.0 542.2 L725.8 545.4 L727.2 549.4" stroke-width="0.90"/><path d="M707.7 609.9 L711.3 609.9 L714.6 608.6" stroke-width="0.63"/><path d="M700.0 600.0 L702.3 603.5 L704.7 606.9 L707.7 609.9 L710.0 613.4" stroke-width="0.90"/><path d="M840.1 538.4 L837.8 541.1 L836.7 544.5" stroke-width="0.63"/><path d="M840.0 530.0 L839.7 534.2 L840.1 538.4 L841.6 542.3 L844.1 545.7 L846.6 549.0" stroke-width="0.90"/><path d="M856.9 622.9 L853.4 623.6 L849.9 624.1" stroke-width="0.63"/><path d="M860.0 620.0 L856.9 622.9 L856.0 627.0 L857.9 630.7 L860.8 633.8" stroke-width="0.90"/><path d="M704.1 561.0 L707.6 561.1 L711.2 560.8" stroke-width="0.63"/><path d="M707.8 563.0 L710.1 560.3 L712.1 557.4" stroke-width="0.63"/><path d="M700.0 560.0 L704.1 561.0 L707.8 563.0 L710.0 566.6 L712.2 570.2" stroke-width="0.90"/><path d="M758.6 689.3 L762.1 688.7 L764.2 685.8" stroke-width="0.63"/><path d="M745.0 690.0 L747.7 686.8 L751.5 685.0 L755.5 686.5 L758.6 689.3" stroke-width="0.90"/><path d="M826.3 678.0 L826.1 674.5 L824.8 671.1" stroke-width="0.63"/><path d="M822.1 678.4 L821.7 674.9 L820.5 671.5" stroke-width="0.63"/><path d="M818.5 676.2 L819.6 672.8 L820.1 669.3" stroke-width="0.63"/><path d="M814.5 675.0 L811.3 676.4 L808.0 677.9" stroke-width="0.63"/><path d="M830.0 680.0 L826.3 678.0 L822.1 678.4 L818.5 676.2 L814.5 675.0" stroke-width="0.90"/><path d="M751.8 521.8 L749.3 519.3 L746.3 517.3" stroke-width="0.63"/><path d="M748.4 524.2 L745.6 522.0 L742.8 519.7" stroke-width="0.63"/><path d="M744.4 525.7 L742.5 522.7 L740.2 519.9" stroke-width="0.63"/><path d="M760.0 520.0 L755.9 520.7 L751.8 521.8 L748.4 524.2 L744.4 525.7" stroke-width="0.90"/><path d="M735.0 560.0 L732.9 563.6 L730.8 567.3 L727.5 569.9 L723.3 569.9" stroke-width="0.90"/><path d="M747.1 661.7 L748.1 665.1 L750.4 667.8" stroke-width="0.63"/><path d="M750.0 650.0 L750.8 654.1 L748.7 657.8 L747.1 661.7 L746.4 665.8" stroke-width="0.90"/><path d="M712.0 610.0 L714.6 606.7 L717.5 603.7 L720.2 600.5 L723.0 597.3" stroke-width="0.90"/><path d="M810.3 643.0 L808.7 646.2 L806.5 649.0" stroke-width="0.63"/><path d="M800.0 630.0 L802.1 633.7 L805.1 636.5 L808.3 639.3 L810.3 643.0" stroke-width="0.90"/><path d="M845.0 600.0 L846.9 596.3 L846.7 592.1 L844.4 588.5 L842.7 584.7" stroke-width="0.90"/><path d="M812.5 523.4 L813.8 526.7 L812.4 530.0" stroke-width="0.63"/><path d="M815.0 520.0 L812.5 523.4 L809.2 525.9 L807.2 529.6 L803.6 531.8" stroke-width="0.90"/><path d="M800.0 690.0 L802.0 686.3 L805.1 683.5 L809.1 682.2 L813.3 681.9" stroke-width="0.90"/><path d="M759.1 604.1 L762.0 606.3 L764.8 608.5" stroke-width="0.63"/><path d="M760.0 600.0 L759.1 604.1 L756.9 607.7 L754.2 610.8 L750.9 613.5" stroke-width="0.90"/><path d="M690.0 520.0 L691.2 524.0 L691.2 528.2 L691.1 532.4 L691.7 536.6" stroke-width="0.90"/><path d="M857.2 569.0 L854.2 567.1 L851.5 564.8" stroke-width="0.63"/><path d="M866.0 560.0 L863.2 563.1 L860.5 566.4 L857.2 569.0 L854.4 572.1" stroke-width="0.90"/><path d="M770.2 546.8 Q754.6 544.6 749.1 545.7 Q743.5 546.8 737.9 550.1 Q732.4 553.5 726.8 551.2 Q721.2 549.0 716.8 544.6 L712.3 540.1" stroke-width="1.50"/><path d="M771.3 604.7 Q761.3 611.3 756.9 614.7 Q752.4 618.0 748.0 621.4 Q743.5 624.7 739.0 625.8 Q734.6 626.9 729.0 629.2 Q723.5 631.4 716.8 632.5 L710.1 633.6" stroke-width="1.50"/><path d="M743.5 624.7 Q739.0 635.8 735.7 640.3 Q732.4 644.7 730.1 649.2 L727.9 653.6" stroke-width="1.50"/><path d="M734.6 517.8 Q739.0 531.2 741.3 537.9 L743.5 544.6" stroke-width="1.50"/><path d="M716.8 569.0 Q707.9 578.0 705.7 581.3 L703.4 584.6" stroke-width="1.50"/><path d="M754.6 578.0 Q745.7 584.6 742.4 590.2 L739.0 595.8" stroke-width="1.50"/><path d="M770.2 573.5 Q761.3 578.0 758.0 578.0 Q754.6 578.0 750.2 575.7 Q745.7 573.5 740.2 574.6 L734.6 575.7" stroke-width="1.50"/><path d="M765.8 649.2 Q756.9 658.1 753.5 663.7 Q750.2 669.2 748.0 674.8 L745.7 680.4" stroke-width="1.50"/><path d="M783.6 557.9 Q794.7 562.4 802.5 565.7 Q810.3 569.0 818.1 570.2 Q825.9 571.3 833.7 572.4 Q841.5 573.5 849.2 574.6 L857.0 575.7" stroke-width="1.50"/><path d="M783.6 584.6 Q796.9 591.3 803.6 593.5 Q810.3 595.8 819.2 599.1 Q828.1 602.4 837.0 603.6 L845.9 604.7" stroke-width="1.50"/><path d="M785.8 613.6 Q796.9 622.5 801.4 628.0 Q805.8 633.6 809.2 639.2 Q812.5 644.7 813.6 651.4 L814.7 658.1" stroke-width="1.50"/><path d="M783.6 658.1 Q794.7 653.6 802.5 651.4 Q810.3 649.2 819.2 644.7 Q828.1 640.3 834.8 636.9 L841.5 633.6" stroke-width="1.50"/><path d="M810.3 595.8 Q814.7 584.6 817.0 579.1 L819.2 573.5" stroke-width="1.50"/><path d="M805.8 537.9 Q817.0 546.8 822.5 550.1 L828.1 553.5" stroke-width="1.50"/><path d="M788.0 680.4 Q801.4 673.7 808.1 672.6 L814.7 671.5" stroke-width="1.50"/><path d="M825.9 571.3 Q832.5 560.1 834.8 553.5 L837.0 546.8" stroke-width="1.50"/></g>
<rect x="647" y="718" width="263.5" height="3" fill="#1a1a1a" filter="url(#gb1)"/>
</g>
<circle cx="777.5" cy="582.5" r="6.5" fill="#fff"/>
<rect x="655.6" y="471.5" width="17.6" height="7.3" fill="#fff"/>
<text x="925.0" y="439.8" font-size="54" font-weight="bold" textLength="32.0" lengthAdjust="spacingAndGlyphs">h</text>
<line x1="1030.4" y1="441.4" x2="1030.4" y2="708.3" stroke="#222" stroke-width="1.2"/>
<line x1="1030.4" y1="708.3" x2="1194.4" y2="708.3" stroke="#222" stroke-width="1.2"/>
<line x1="1026.4" y1="441.4" x2="1030.4" y2="441.4" stroke="#222" stroke-width="1.1"/>
<text x="1025.5" y="446.7" font-size="15" text-anchor="end" fill="#111">12000</text>
<line x1="1026.4" y1="530.4" x2="1030.4" y2="530.4" stroke="#222" stroke-width="1.1"/>
<text x="1025.5" y="535.7" font-size="15" text-anchor="end" fill="#111">8000</text>
<line x1="1026.4" y1="619.3" x2="1030.4" y2="619.3" stroke="#222" stroke-width="1.1"/>
<text x="1025.5" y="624.6" font-size="15" text-anchor="end" fill="#111">4000</text>
<line x1="1026.4" y1="708.3" x2="1030.4" y2="708.3" stroke="#222" stroke-width="1.1"/>
<text x="1025.5" y="713.6" font-size="15" text-anchor="end" fill="#111">0</text>
<line x1="1027.9" y1="663.8" x2="1030.4" y2="663.8" stroke="#222" stroke-width="1"/>
<line x1="1027.9" y1="574.8" x2="1030.4" y2="574.8" stroke="#222" stroke-width="1"/>
<line x1="1027.9" y1="485.9" x2="1030.4" y2="485.9" stroke="#222" stroke-width="1"/>
<line x1="1058.6" y1="708.3" x2="1058.6" y2="712.0" stroke="#222" stroke-width="1"/>
<text x="1058.6" y="727.8" font-size="15" text-anchor="middle" fill="#111">p45</text>
<line x1="1113.0" y1="708.3" x2="1113.0" y2="712.0" stroke="#222" stroke-width="1"/>
<text x="1113.0" y="727.8" font-size="15" text-anchor="middle" fill="#111">p60</text>
<line x1="1167.7" y1="708.3" x2="1167.7" y2="712.0" stroke="#222" stroke-width="1"/>
<text x="1167.7" y="727.8" font-size="15" text-anchor="middle" fill="#111">p90</text>
<text x="982.0" y="576.0" font-size="23" text-anchor="middle" fill="#111" textLength="28.0" lengthAdjust="spacingAndGlyphs" transform="rotate(-90 982.0 576.0)">AU</text>
<path d="M1058.6 596.8L1113 582.3L1167.7 576.8M1058.6 580.2L1113 596.0L1167.7 581.5M1058.6 557.0L1113 529.7L1167.7 581.4M1058.6 598.4L1113 578.0L1167.7 588.9M1058.6 532.4L1113 507.1L1167.7 534.4M1058.6 574.6L1113 521.1L1167.7 580.4M1058.6 586.5L1113 599.0L1167.7 584.6M1058.6 564.8L1113 563.1L1167.7 566.0M1058.6 561.8L1113 541.7L1167.7 539.8M1058.6 563.3L1113 587.3L1167.7 549.2M1058.6 601.3L1113 596.6L1167.7 619.3M1058.6 568.1L1113 574.2L1167.7 563.8M1058.6 510.3L1113 503.4L1167.7 505.9M1058.6 599.1L1113 596.4L1167.7 585.8M1058.6 570.3L1113 556.0L1167.7 568.3M1058.6 591.7L1113 573.9L1167.7 607.9M1058.6 524.5L1113 525.7L1167.7 510.7M1058.6 568.1L1113 543.4L1167.7 580.2M1058.6 544.9L1113 539.3L1167.7 519.6M1058.6 553.6L1113 543.3L1167.7 569.2M1058.6 550.2L1113 534.1L1167.7 517.4M1058.6 577.0L1113 559.3L1167.7 566.8M1058.6 561.6L1113 550.1L1167.7 557.9M1058.6 582.2L1113 592.4L1167.7 590.1M1058.6 554.4L1113 519.7L1167.7 534.8M1058.6 543.6L1113 522.0L1167.7 529.6M1058.6 563.9L1113 542.4L1167.7 528.4M1058.6 575.8L1113 580.4L1167.7 536.6M1058.6 562.5L1113 537.4L1167.7 545.0M1058.6 594.7L1113 543.6L1167.7 559.2" stroke="#e4e4e4" stroke-width="0.9" fill="none"/>
<g fill="#cdcdcd"><circle cx="1058.6" cy="596.8" r="2"/><circle cx="1113.0" cy="582.3" r="2"/><circle cx="1167.7" cy="576.8" r="2"/><circle cx="1058.6" cy="580.2" r="2"/><circle cx="1113.0" cy="596.0" r="2"/><circle cx="1167.7" cy="581.5" r="2"/><circle cx="1058.6" cy="557.0" r="2"/><circle cx="1113.0" cy="529.7" r="2"/><circle cx="1167.7" cy="581.4" r="2"/><circle cx="1058.6" cy="598.4" r="2"/><circle cx="1113.0" cy="578.0" r="2"/><circle cx="1167.7" cy="588.9" r="2"/><circle cx="1058.6" cy="532.4" r="2"/><circle cx="1113.0" cy="507.1" r="2"/><circle cx="1167.7" cy="534.4" r="2"/><circle cx="1058.6" cy="574.6" r="2"/><circle cx="1113.0" cy="521.1" r="2"/><circle cx="1167.7" cy="580.4" r="2"/><circle cx="1058.6" cy="586.5" r="2"/><circle cx="1113.0" cy="599.0" r="2"/><circle cx="1167.7" cy="584.6" r="2"/><circle cx="1058.6" cy="564.8" r="2"/><circle cx="1113.0" cy="563.1" r="2"/><circle cx="1167.7" cy="566.0" r="2"/><circle cx="1058.6" cy="561.8" r="2"/><circle cx="1113.0" cy="541.7" r="2"/><circle cx="1167.7" cy="539.8" r="2"/><circle cx="1058.6" cy="563.3" r="2"/><circle cx="1113.0" cy="587.3" r="2"/><circle cx="1167.7" cy="549.2" r="2"/><circle cx="1058.6" cy="601.3" r="2"/><circle cx="1113.0" cy="596.6" r="2"/><circle cx="1167.7" cy="619.3" r="2"/><circle cx="1058.6" cy="568.1" r="2"/><circle cx="1113.0" cy="574.2" r="2"/><circle cx="1167.7" cy="563.8" r="2"/><circle cx="1058.6" cy="510.3" r="2"/><circle cx="1113.0" cy="503.4" r="2"/><circle cx="1167.7" cy="505.9" r="2"/><circle cx="1058.6" cy="599.1" r="2"/><circle cx="1113.0" cy="596.4" r="2"/><circle cx="1167.7" cy="585.8" r="2"/><circle cx="1058.6" cy="570.3" r="2"/><circle cx="1113.0" cy="556.0" r="2"/><circle cx="1167.7" cy="568.3" r="2"/><circle cx="1058.6" cy="591.7" r="2"/><circle cx="1113.0" cy="573.9" r="2"/><circle cx="1167.7" cy="607.9" r="2"/><circle cx="1058.6" cy="524.5" r="2"/><circle cx="1113.0" cy="525.7" r="2"/><circle cx="1167.7" cy="510.7" r="2"/><circle cx="1058.6" cy="568.1" r="2"/><circle cx="1113.0" cy="543.4" r="2"/><circle cx="1167.7" cy="580.2" r="2"/><circle cx="1058.6" cy="544.9" r="2"/><circle cx="1113.0" cy="539.3" r="2"/><circle cx="1167.7" cy="519.6" r="2"/><circle cx="1058.6" cy="553.6" r="2"/><circle cx="1113.0" cy="543.3" r="2"/><circle cx="1167.7" cy="569.2" r="2"/><circle cx="1058.6" cy="550.2" r="2"/><circle cx="1113.0" cy="534.1" r="2"/><circle cx="1167.7" cy="517.4" r="2"/><circle cx="1058.6" cy="577.0" r="2"/><circle cx="1113.0" cy="559.3" r="2"/><circle cx="1167.7" cy="566.8" r="2"/><circle cx="1058.6" cy="561.6" r="2"/><circle cx="1113.0" cy="550.1" r="2"/><circle cx="1167.7" cy="557.9" r="2"/><circle cx="1058.6" cy="582.2" r="2"/><circle cx="1113.0" cy="592.4" r="2"/><circle cx="1167.7" cy="590.1" r="2"/><circle cx="1058.6" cy="554.4" r="2"/><circle cx="1113.0" cy="519.7" r="2"/><circle cx="1167.7" cy="534.8" r="2"/><circle cx="1058.6" cy="543.6" r="2"/><circle cx="1113.0" cy="522.0" r="2"/><circle cx="1167.7" cy="529.6" r="2"/><circle cx="1058.6" cy="563.9" r="2"/><circle cx="1113.0" cy="542.4" r="2"/><circle cx="1167.7" cy="528.4" r="2"/><circle cx="1058.6" cy="575.8" r="2"/><circle cx="1113.0" cy="580.4" r="2"/><circle cx="1167.7" cy="536.6" r="2"/><circle cx="1058.6" cy="562.5" r="2"/><circle cx="1113.0" cy="537.4" r="2"/><circle cx="1167.7" cy="545.0" r="2"/><circle cx="1058.6" cy="594.7" r="2"/><circle cx="1113.0" cy="543.6" r="2"/><circle cx="1167.7" cy="559.2" r="2"/></g>
<line x1="1058.4" y1="542.7" x2="1058.4" y2="563.4" stroke="#111" stroke-width="1.7"/>
<line x1="1058.4" y1="573.4" x2="1058.4" y2="593.6" stroke="#111" stroke-width="1.7"/>
<line x1="1055.4" y1="542.7" x2="1061.4" y2="542.7" stroke="#111" stroke-width="2.2"/>
<line x1="1055.4" y1="593.6" x2="1061.4" y2="593.6" stroke="#111" stroke-width="2.2"/>
<rect x="1036.6" y="563.4" width="43.600000000000136" height="10.0" rx="2" fill="#fff" fill-opacity="0.85" stroke="#111" stroke-width="1.6"/>
<line x1="1036.6" y1="568.0" x2="1080.2" y2="568.0" stroke="#111" stroke-width="1.6"/>
<line x1="1112.6" y1="532.1" x2="1112.6" y2="554.4" stroke="#111" stroke-width="1.7"/>
<line x1="1112.6" y1="566.3" x2="1112.6" y2="588.4" stroke="#111" stroke-width="1.7"/>
<line x1="1109.6" y1="532.1" x2="1115.6" y2="532.1" stroke="#111" stroke-width="2.2"/>
<line x1="1109.6" y1="588.4" x2="1115.6" y2="588.4" stroke="#111" stroke-width="2.2"/>
<rect x="1090.5" y="554.4" width="44.200000000000045" height="11.899999999999977" rx="2" fill="#fff" fill-opacity="0.85" stroke="#111" stroke-width="1.6"/>
<line x1="1090.5" y1="560.9" x2="1134.7" y2="560.9" stroke="#111" stroke-width="1.6"/>
<line x1="1167.2" y1="535.8" x2="1167.2" y2="561.7" stroke="#111" stroke-width="1.7"/>
<line x1="1167.2" y1="574.2" x2="1167.2" y2="598.8" stroke="#111" stroke-width="1.7"/>
<line x1="1164.2" y1="535.8" x2="1170.2" y2="535.8" stroke="#111" stroke-width="2.2"/>
<line x1="1164.2" y1="598.8" x2="1170.2" y2="598.8" stroke="#111" stroke-width="2.2"/>
<rect x="1145" y="561.7" width="44.299999999999955" height="12.5" rx="2" fill="#fff" fill-opacity="0.85" stroke="#111" stroke-width="1.6"/>
<line x1="1145.0" y1="568.0" x2="1189.3" y2="568.0" stroke="#111" stroke-width="1.6"/>
<text x="1218.8" y="444.0" font-size="54" font-weight="bold" textLength="14.6" lengthAdjust="spacingAndGlyphs">i</text>
<defs>
<filter id="nzG" x="0" y="0" width="1" height="1" color-interpolation-filters="sRGB">
 <feTurbulence type="fractalNoise" baseFrequency="0.9" numOctaves="2" seed="4"/>
 <feColorMatrix type="matrix" values="0 0 0 0 0  1.2 0 0 0 -0.2  0 0 0 0 0  -1.6 0 0 0 1.1"/>
 <feComposite in2="SourceGraphic" operator="in"/></filter>
<filter id="nzL" x="0" y="0" width="1" height="1" color-interpolation-filters="sRGB">
 <feTurbulence type="fractalNoise" baseFrequency="0.9" numOctaves="2" seed="9"/>
 <feColorMatrix type="matrix" values="0 0 0 0 0.12  0 0 0 0 0.85  0 0 0 0 0.12  1.8 0 0 0 -0.85"/>
 <feComposite in2="SourceGraphic" operator="in"/></filter>
<filter id="nzR" x="0" y="0" width="1" height="1" color-interpolation-filters="sRGB">
 <feTurbulence type="fractalNoise" baseFrequency="0.9" numOctaves="2" seed="5"/>
 <feColorMatrix type="matrix" values="0 0 0 0 0.1  0 0 0 0 0  0 0 0 0 0  -1.6 0 0 0 1.0"/>
 <feComposite in2="SourceGraphic" operator="in"/></filter>
<filter id="nzM" x="0" y="0" width="1" height="1" color-interpolation-filters="sRGB">
 <feTurbulence type="fractalNoise" baseFrequency="0.7" numOctaves="2" seed="12"/>
 <feColorMatrix type="matrix" values="0 0 0 0 0.55  0 0 0 0 0.2  0 0 0 0 0.05  1.8 0 0 0 -0.85"/>
 <feComposite in2="SourceGraphic" operator="in"/></filter>
<clipPath id="c1"><rect x="1262.8" y="448.5" width="126.9" height="128.3"/></clipPath>
<clipPath id="c2"><rect x="1262" y="582" width="129.8" height="130"/></clipPath>
<clipPath id="c3"><rect x="1405.2" y="451" width="257.8" height="258"/></clipPath>
<linearGradient id="gcg" x1="0" y1="0" x2="1" y2="1"><stop offset="0" stop-color="#1f6a1f"/><stop offset="0.5" stop-color="#2a8a28"/><stop offset="1" stop-color="#1e6e1e"/></linearGradient>
<linearGradient id="mgg" x1="0" y1="0" x2="1" y2="1"><stop offset="0" stop-color="#4f7e22"/><stop offset="0.5" stop-color="#5a9128"/><stop offset="1" stop-color="#3f7a22"/></linearGradient>
</defs>
<g clip-path="url(#c1)">
<rect x="1262.8" y="448.5" width="126.9" height="128.3" fill="#137313"/>
<path d="M1262 470 C1300 462 1340 456 1392 452 L1392 448 L1262 448 Z" fill="#0a4a0a" filter="url(#gb3)"/>
<path d="M1300 470 C1320 490 1335 505 1345 515" stroke="#0c4c0c" stroke-width="5" fill="none" filter="url(#gb3)"/>
<path d="M1282 548 C1315 530 1352 505 1392 478 L1392 508 C1352 532 1315 555 1285 568 Z" fill="#2bb52b" filter="url(#gb8)"/>
<path d="M1330 578 C1355 565 1375 555 1392 545 L1392 578 Z" fill="#0b5a0b" filter="url(#gb3)"/>
<path d="M1262 449 L1297 449 C1285 455 1272 462 1262 472 Z" fill="#000"/>
<rect x="1262.8" y="448.5" width="126.9" height="128.3" fill="#000" filter="url(#nzG)" opacity="0.65"/>
<rect x="1262.8" y="448.5" width="126.9" height="128.3" fill="#000" filter="url(#nzL)"/>
</g>
<rect x="1369.7" y="570.5" width="17.8" height="4.0" fill="#fff"/>
<text x="1268.5" y="470.3" font-size="20" font-weight="bold" fill="#fff" textLength="114.6" lengthAdjust="spacingAndGlyphs">GCaMP7f+</text>
<g clip-path="url(#c2)">
<rect x="1262.0" y="582.0" width="129.8" height="130.0" fill="#520404"/>
<path d="M1262 582 L1297 582 C1285 588 1272 594 1262 601 Z" fill="#050000"/>
<path d="M1262 601 C1272 594 1285 588 1297 582" stroke="#e02020" stroke-width="1.2" fill="none"/>
<rect x="1262.0" y="582.0" width="129.8" height="130.0" fill="#000" filter="url(#nzR)" opacity="0.6"/>
<g fill="#f01818" filter="url(#gb1)"><circle cx="1286.1" cy="673.9" r="1.3"/><circle cx="1324.5" cy="620.4" r="1.4"/><circle cx="1364.6" cy="653.9" r="1.2"/><circle cx="1294.8" cy="596.4" r="1.1"/><circle cx="1337.4" cy="603.8" r="1.4"/><circle cx="1294.3" cy="622.3" r="0.9"/><circle cx="1387.7" cy="679.5" r="1.4"/><circle cx="1341.1" cy="599.8" r="1.1"/><circle cx="1326.7" cy="609.1" r="1.5"/><circle cx="1311.0" cy="613.5" r="1.4"/><circle cx="1281.2" cy="700.9" r="1.2"/><circle cx="1333.3" cy="634.8" r="1.2"/><circle cx="1288.8" cy="600.2" r="1.4"/><circle cx="1294.7" cy="684.2" r="1.0"/><circle cx="1384.2" cy="697.0" r="1.4"/><circle cx="1359.1" cy="661.6" r="1.3"/><circle cx="1280.9" cy="649.8" r="1.4"/><circle cx="1290.5" cy="700.3" r="1.4"/><circle cx="1316.0" cy="637.3" r="1.2"/><circle cx="1313.1" cy="708.4" r="1.1"/><circle cx="1269.3" cy="606.5" r="1.3"/><circle cx="1387.1" cy="652.0" r="1.2"/><circle cx="1333.2" cy="680.5" r="1.0"/><circle cx="1340.3" cy="658.9" r="1.3"/><circle cx="1288.0" cy="615.2" r="1.1"/><circle cx="1379.1" cy="635.2" r="1.3"/><circle cx="1303.4" cy="607.7" r="0.9"/><circle cx="1365.3" cy="683.8" r="1.1"/><circle cx="1349.4" cy="672.4" r="1.4"/><circle cx="1382.9" cy="642.0" r="1.5"/><circle cx="1383.3" cy="662.7" r="1.4"/><circle cx="1325.9" cy="638.4" r="1.0"/><circle cx="1372.9" cy="614.3" r="0.9"/><circle cx="1364.2" cy="683.5" r="1.2"/><circle cx="1368.1" cy="601.9" r="1.1"/><circle cx="1301.4" cy="643.4" r="1.0"/><circle cx="1274.5" cy="634.2" r="1.4"/><circle cx="1386.0" cy="680.3" r="1.2"/><circle cx="1296.8" cy="704.4" r="1.2"/><circle cx="1354.9" cy="599.2" r="1.0"/><circle cx="1368.3" cy="685.9" r="1.4"/><circle cx="1339.4" cy="644.1" r="1.2"/><circle cx="1369.6" cy="630.8" r="1.2"/><circle cx="1299.7" cy="682.8" r="0.9"/><circle cx="1349.6" cy="703.8" r="0.9"/><circle cx="1338.4" cy="668.8" r="1.4"/><circle cx="1337.3" cy="625.1" r="1.1"/><circle cx="1383.0" cy="698.3" r="1.0"/><circle cx="1277.6" cy="606.6" r="0.9"/><circle cx="1320.5" cy="611.9" r="1.4"/><circle cx="1345.9" cy="610.3" r="1.2"/><circle cx="1305.6" cy="651.8" r="1.0"/><circle cx="1286.3" cy="616.8" r="1.1"/><circle cx="1352.6" cy="658.2" r="0.9"/><circle cx="1352.7" cy="694.7" r="1.4"/><circle cx="1362.5" cy="596.9" r="1.2"/><circle cx="1273.7" cy="682.3" r="1.0"/><circle cx="1352.8" cy="624.6" r="1.3"/><circle cx="1304.3" cy="600.7" r="1.1"/><circle cx="1303.7" cy="697.8" r="1.1"/><circle cx="1327.4" cy="658.1" r="1.5"/><circle cx="1278.0" cy="663.9" r="1.2"/><circle cx="1355.6" cy="705.3" r="1.1"/><circle cx="1351.3" cy="655.4" r="1.2"/><circle cx="1273.8" cy="688.1" r="1.5"/><circle cx="1309.3" cy="631.9" r="1.5"/><circle cx="1279.1" cy="604.6" r="0.9"/><circle cx="1365.3" cy="681.9" r="1.2"/><circle cx="1341.8" cy="598.2" r="1.3"/><circle cx="1320.0" cy="654.5" r="1.1"/></g>
</g>
<rect x="1371.0" y="707.2" width="18.4" height="3.5" fill="#fff"/>
<text x="1277.0" y="609.8" font-size="20" font-weight="bold" fill="#fff" textLength="42.6" lengthAdjust="spacingAndGlyphs">PV+</text>
<g clip-path="url(#c3)">
<rect x="1405.2" y="451.0" width="257.8" height="258.0" fill="#4c6c16"/>
<path d="M1405 520 C1450 500 1520 470 1560 451 L1663 451 L1663 470 C1600 500 1520 540 1405 600 Z" fill="#557a1a" opacity="0.6" filter="url(#gb8)"/>
<path d="M1480 470 C1520 440 1600 460 1640 470 C1600 520 1560 540 1520 560 Z" fill="#5a6a18" opacity="0.5" filter="url(#gb8)"/>
<path d="M1420 660 C1470 640 1560 590 1663 530 L1663 565 C1580 615 1500 665 1430 695 Z" fill="#5ec030" opacity="0.6" filter="url(#gb8)"/>
<path d="M1485 630 C1520 610 1560 585 1600 565 L1610 585 C1570 605 1530 630 1495 650 Z" fill="#6ad040" opacity="0.45" filter="url(#gb8)"/>
<path d="M1550 709 C1590 690 1630 672 1663 655 L1663 672 C1630 688 1600 700 1580 709 Z" fill="#2f5a14" opacity="0.8" filter="url(#gb3)"/>
<path d="M1600 709 C1630 697 1650 690 1663 684 L1663 709 Z" fill="#3f8a24" opacity="0.8" filter="url(#gb3)"/>
<g stroke="#2c4a10" stroke-width="2" fill="none" opacity="0.7" filter="url(#gb1)"><path d="M1478 478 C1495 505 1510 530 1525 560"/><path d="M1590 452 C1600 480 1610 500 1620 520"/><path d="M1640 455 C1650 470 1658 485 1663 495"/></g>
<path d="M1405 451 L1472 451 C1450 462 1425 472 1405 484 Z" fill="#050505"/>
<path d="M1405 484 C1425 472 1450 462 1472 451" stroke="#f03a20" stroke-width="2" fill="none"/>
<rect x="1405.2" y="451.0" width="257.8" height="258.0" fill="#000" filter="url(#nzG)" opacity="0.5"/>
<rect x="1405.2" y="451.0" width="257.8" height="258.0" fill="#000" filter="url(#nzL)" opacity="0.8"/>
<rect x="1405.2" y="451.0" width="257.8" height="258.0" fill="#000" filter="url(#nzM)" opacity="0.8"/>
<g filter="url(#gb1)"><circle cx="1552.3" cy="615.0" r="1.7" fill="#f07a20"/><circle cx="1628.5" cy="590.9" r="2.1" fill="#e84a18"/><circle cx="1634.7" cy="690.3" r="2.1" fill="#f07a20"/><circle cx="1542.0" cy="569.8" r="1.6" fill="#f05a1c"/><circle cx="1488.1" cy="582.1" r="1.9" fill="#f05a1c"/><circle cx="1623.5" cy="625.9" r="2.0" fill="#f07a20"/><circle cx="1548.7" cy="626.9" r="2.0" fill="#f05a1c"/><circle cx="1490.6" cy="676.8" r="2.1" fill="#e84a18"/><circle cx="1428.3" cy="550.5" r="1.9" fill="#f07a20"/><circle cx="1538.1" cy="539.5" r="1.8" fill="#f07a20"/><circle cx="1486.9" cy="557.4" r="1.9" fill="#e84a18"/><circle cx="1628.3" cy="550.2" r="1.4" fill="#f05a1c"/><circle cx="1434.9" cy="657.6" r="1.4" fill="#f05a1c"/><circle cx="1479.7" cy="511.1" r="1.9" fill="#e84a18"/><circle cx="1507.6" cy="606.6" r="1.8" fill="#f07a20"/><circle cx="1523.8" cy="670.3" r="1.4" fill="#e8401c"/><circle cx="1530.4" cy="553.8" r="1.5" fill="#f07a20"/><circle cx="1626.7" cy="465.6" r="1.9" fill="#e8401c"/><circle cx="1626.7" cy="666.2" r="2.0" fill="#e84a18"/><circle cx="1591.4" cy="579.0" r="2.0" fill="#f05a1c"/><circle cx="1640.8" cy="530.2" r="1.7" fill="#f07a20"/><circle cx="1536.7" cy="525.1" r="1.7" fill="#e8401c"/><circle cx="1598.7" cy="538.9" r="1.5" fill="#f07a20"/><circle cx="1647.7" cy="683.4" r="1.8" fill="#f07a20"/><circle cx="1482.4" cy="612.9" r="2.0" fill="#f07a20"/><circle cx="1518.8" cy="657.9" r="1.9" fill="#f07a20"/><circle cx="1556.3" cy="585.8" r="1.6" fill="#f05a1c"/><circle cx="1434.7" cy="527.4" r="1.8" fill="#f05a1c"/><circle cx="1460.9" cy="507.6" r="1.4" fill="#f05a1c"/><circle cx="1579.2" cy="464.7" r="2.1" fill="#e8401c"/><circle cx="1579.2" cy="463.6" r="1.7" fill="#e84a18"/><circle cx="1637.5" cy="658.9" r="1.7" fill="#e84a18"/><circle cx="1604.0" cy="604.3" r="2.0" fill="#e84a18"/><circle cx="1468.1" cy="489.3" r="1.5" fill="#f07a20"/><circle cx="1631.6" cy="582.8" r="2.1" fill="#f07a20"/><circle cx="1597.7" cy="664.2" r="2.0" fill="#f05a1c"/><circle cx="1534.4" cy="532.3" r="1.6" fill="#f07a20"/><circle cx="1443.5" cy="542.5" r="1.7" fill="#f07a20"/><circle cx="1596.9" cy="527.6" r="1.8" fill="#f05a1c"/><circle cx="1618.1" cy="524.5" r="1.7" fill="#e84a18"/><circle cx="1444.0" cy="655.6" r="1.7" fill="#e8401c"/><circle cx="1569.2" cy="518.8" r="1.4" fill="#f05a1c"/><circle cx="1448.7" cy="507.0" r="1.6" fill="#f07a20"/><circle cx="1563.1" cy="659.3" r="1.7" fill="#e8401c"/><circle cx="1506.2" cy="530.3" r="1.6" fill="#f07a20"/><circle cx="1422.4" cy="500.6" r="1.6" fill="#f05a1c"/><circle cx="1440.8" cy="696.9" r="1.6" fill="#e8401c"/><circle cx="1611.3" cy="472.0" r="1.9" fill="#e84a18"/><circle cx="1443.8" cy="500.8" r="1.8" fill="#e8401c"/><circle cx="1597.0" cy="666.7" r="1.5" fill="#e8401c"/><circle cx="1461.1" cy="675.7" r="2.0" fill="#e8401c"/><circle cx="1586.2" cy="530.2" r="2.0" fill="#e8401c"/><circle cx="1566.2" cy="518.8" r="2.0" fill="#e8401c"/><circle cx="1521.2" cy="558.7" r="1.7" fill="#f05a1c"/><circle cx="1520.4" cy="529.7" r="1.5" fill="#f05a1c"/><circle cx="1457.9" cy="541.7" r="2.0" fill="#e84a18"/><circle cx="1444.4" cy="519.2" r="2.1" fill="#e84a18"/><circle cx="1513.9" cy="497.6" r="2.0" fill="#f05a1c"/><circle cx="1509.9" cy="484.8" r="1.7" fill="#e8401c"/><circle cx="1556.4" cy="653.3" r="1.7" fill="#e8401c"/><circle cx="1536.6" cy="537.2" r="1.6" fill="#e8401c"/><circle cx="1524.7" cy="683.6" r="1.7" fill="#e84a18"/><circle cx="1415.4" cy="502.9" r="1.6" fill="#e8401c"/><circle cx="1615.4" cy="686.8" r="2.0" fill="#f07a20"/><circle cx="1459.9" cy="571.0" r="1.6" fill="#e84a18"/><circle cx="1518.8" cy="583.3" r="1.6" fill="#f07a20"/><circle cx="1441.3" cy="469.5" r="1.6" fill="#f07a20"/><circle cx="1590.7" cy="614.0" r="2.0" fill="#f07a20"/><circle cx="1476.6" cy="469.0" r="1.5" fill="#f05a1c"/><circle cx="1538.7" cy="511.8" r="1.4" fill="#f07a20"/></g>
</g>
<rect x="1622.0" y="700.5" width="36.0" height="4.0" fill="#fff"/>
<text x="1408.5" y="470.0" font-size="20" font-weight="bold" fill="#fff" textLength="70.6" lengthAdjust="spacingAndGlyphs">Merge</text>
<line x1="1754.4" y1="469.0" x2="1754.4" y2="695.8" stroke="#222" stroke-width="1.2"/>
<line x1="1750.4" y1="469.0" x2="1754.4" y2="469.0" stroke="#222" stroke-width="1.1"/>
<text x="1748.0" y="475.3" font-size="18" text-anchor="end" fill="#111" textLength="32.0" lengthAdjust="spacingAndGlyphs">100</text>
<line x1="1750.4" y1="525.2" x2="1754.4" y2="525.2" stroke="#222" stroke-width="1.1"/>
<text x="1748.0" y="531.5" font-size="18" text-anchor="end" fill="#111" textLength="22.1" lengthAdjust="spacingAndGlyphs">75</text>
<line x1="1750.4" y1="582.3" x2="1754.4" y2="582.3" stroke="#222" stroke-width="1.1"/>
<text x="1748.0" y="588.6" font-size="18" text-anchor="end" fill="#111" textLength="22.1" lengthAdjust="spacingAndGlyphs">50</text>
<line x1="1750.4" y1="638.7" x2="1754.4" y2="638.7" stroke="#222" stroke-width="1.1"/>
<text x="1748.0" y="645.0" font-size="18" text-anchor="end" fill="#111" textLength="22.1" lengthAdjust="spacingAndGlyphs">25</text>
<line x1="1750.4" y1="695.8" x2="1754.4" y2="695.8" stroke="#222" stroke-width="1.1"/>
<text x="1748.0" y="702.1" font-size="18" text-anchor="end" fill="#111" textLength="12.2" lengthAdjust="spacingAndGlyphs">0</text>
<line x1="1751.9" y1="497.1" x2="1754.4" y2="497.1" stroke="#222" stroke-width="1"/>
<line x1="1751.9" y1="553.7" x2="1754.4" y2="553.7" stroke="#222" stroke-width="1"/>
<line x1="1751.9" y1="610.5" x2="1754.4" y2="610.5" stroke="#222" stroke-width="1"/>
<line x1="1751.9" y1="667.2" x2="1754.4" y2="667.2" stroke="#222" stroke-width="1"/>
<text x="1707.5" y="581.5" font-size="21" text-anchor="middle" fill="#111" textLength="232.7" lengthAdjust="spacingAndGlyphs" transform="rotate(-90 1707.5 581.5)">GCaMP7f<tspan font-size="12" dy="-7">+</tspan><tspan dy="7">/PV</tspan><tspan font-size="12" dy="-7">+</tspan><tspan dy="7"> cells (%)</tspan></text>
<rect x="1782.2" y="675.8" width="49.3" height="5.7" fill="#b8cdf0" stroke="#1f3f8f" stroke-width="1.1"/>
<line x1="1782.2" y1="678.6" x2="1831.5" y2="678.6" stroke="#1f3f8f" stroke-width="1"/>
<path d="M1803.0 674.4L1804.8 676.2L1803.0 678.0L1801.2 676.2ZM1800.0 680.2L1801.8 682.0L1800.0 683.8L1798.2 682.0Z" fill="#1f3f8f"/>
<text x="99.7" y="837.0" font-size="54" font-weight="bold" textLength="18.0" lengthAdjust="spacingAndGlyphs">j</text>
<g fill="none" stroke="#bdbdbd" stroke-width="0.9">
<path d="M262.7 834.4 C250 831 235 829 208.5 834.4 C196 842 190 846 185.5 852.1 C176 864 170 872 164.6 881.3 C157 895 153 903 150 912.6 C145 930 142 940 140.6 950.2 C138 965 137 972 137.5 981.5 C138 993 139 1000 141.7 1008.6 C146 1019 152 1026 158.4 1031.6 C170 1039 178 1042 187.6 1044.1 C198 1046 208 1046 218.9 1045.1 C228 1044 235 1043 241.8 1039.9 C250 1035 255 1031 258.5 1025.3 C262 1019 263 1013 263.7 1008.6 Z"/><path d="M 268.9 834.4 C 281.6 831.0 296.6 829.0 323.1 834.4 C 335.6 842.0 341.6 846.0 346.1 852.1 C 355.6 864.0 361.6 872.0 367.0 881.3 C 374.6 895.0 378.6 903.0 381.6 912.6 C 386.6 930.0 389.6 940.0 391.0 950.2 C 393.6 965.0 394.6 972.0 394.1 981.5 C 393.6 993.0 392.6 1000.0 389.9 1008.6 C 385.6 1019.0 379.6 1026.0 373.2 1031.6 C 361.6 1039.0 353.6 1042.0 344.0 1044.1 C 333.6 1046.0 323.6 1046.0 312.7 1045.1 C 303.6 1044.0 296.6 1043.0 289.8 1039.9 C 281.6 1035.0 276.6 1031.0 273.1 1025.3 C 269.6 1019.0 268.6 1013.0 267.9 1008.6 Z"/>
<path d="M208.5 834.4 Q214.7 856.3 221.0 864.6 Q227.2 873.0 225.1 880.3 Q223.1 887.6 228.3 898.0 Q233.5 908.5 241.8 921.0 Q250.2 933.5 256.4 937.7 L262.7 941.8"/><path d="M 323.1 834.4 316.9 856.3 310.6 864.6 304.4 873.0 306.5 880.3 308.5 887.6 303.3 898.0 298.1 908.5 289.8 921.0 281.4 933.5 275.2 937.7 L 268.9 941.8"/>
<path d="M186.5 852.1 Q204.3 866.7 213.7 875.1 Q223.1 883.4 230.4 891.8 Q237.7 900.1 243.9 908.5 L250.2 916.8"/><path d="M 345.1 852.1 327.3 866.7 317.9 875.1 308.5 883.4 301.2 891.8 293.9 900.1 287.7 908.5 L 281.4 916.8"/>
<path d="M164.6 881.3 Q187.6 893.9 200.1 903.2 Q212.6 912.6 218.9 918.9 Q225.1 925.1 233.5 933.5 L241.8 941.8"/><path d="M 367.0 881.3 344.0 893.9 331.5 903.2 319.0 912.6 312.7 918.9 306.5 925.1 298.1 933.5 L 289.8 941.8"/>
<path d="M149.0 912.6 Q166.7 913.7 177.2 912.1 Q187.6 910.5 193.9 916.8 Q200.1 923.1 204.3 932.4 L208.5 941.8"/><path d="M 382.6 912.6 364.9 913.7 354.4 912.1 344.0 910.5 337.7 916.8 331.5 923.1 327.3 932.4 L 323.1 941.8"/>
<path d="M140.6 950.2 Q158.4 943.9 168.8 942.9 Q179.2 941.8 193.9 943.9 Q208.5 946.0 221.0 948.1 Q233.5 950.2 241.8 951.2 Q250.2 952.3 256.4 951.7 L262.7 951.2"/><path d="M 391.0 950.2 373.2 943.9 362.8 942.9 352.4 941.8 337.7 943.9 323.1 946.0 310.6 948.1 298.1 950.2 289.8 951.2 281.4 952.3 275.2 951.7 L 268.9 951.2"/>
<path d="M137.5 979.4 Q156.3 971.0 167.8 969.0 Q179.2 966.9 191.8 967.9 Q204.3 969.0 214.7 972.1 Q225.1 975.2 233.5 979.4 L241.8 983.6"/><path d="M 394.1 979.4 375.3 971.0 363.8 969.0 352.4 966.9 339.8 967.9 327.3 969.0 316.9 972.1 306.5 975.2 298.1 979.4 L 289.8 983.6"/>
<path d="M179.2 985.7 Q168.8 1002.3 170.9 1013.8 Q173.0 1025.3 183.4 1032.6 Q193.9 1039.9 206.4 1041.5 L218.9 1043.0"/><path d="M 352.4 985.7 362.8 1002.3 360.7 1013.8 358.6 1025.3 348.2 1032.6 337.7 1039.9 325.2 1041.5 L 312.7 1043.0"/>
<path d="M241.8 983.6 Q250.2 1006.5 249.1 1015.9 Q248.1 1025.3 243.9 1030.5 L239.8 1035.7"/><path d="M 289.8 983.6 281.4 1006.5 282.5 1015.9 283.5 1025.3 287.7 1030.5 L 291.8 1035.7"/>
<path d="M241.8 952.3 Q238.7 971.0 241.3 981.5 Q243.9 991.9 251.2 1002.3 Q258.5 1012.8 260.6 1019.0 L262.7 1025.3"/><path d="M 289.8 952.3 292.9 971.0 290.3 981.5 287.7 991.9 280.4 1002.3 273.1 1012.8 271.0 1019.0 L 268.9 1025.3"/>
<path d="M141.7 960.6 Q150.0 971.0 149.0 981.5 Q148.0 991.9 145.9 1000.3 L143.8 1008.6"/><path d="M 389.9 960.6 381.6 971.0 382.6 981.5 383.6 991.9 385.7 1000.3 L 387.8 1008.6"/>
<path d="M156.3 958.5 Q160.5 975.2 159.9 983.6 Q159.4 991.9 157.9 999.2 Q156.3 1006.5 153.2 1014.9 L150.0 1023.2"/><path d="M 375.3 958.5 371.1 975.2 371.7 983.6 372.2 991.9 373.7 999.2 375.3 1006.5 378.4 1014.9 L 381.6 1023.2"/>
<path d="M193.9 887.6 Q191.8 904.3 189.7 907.4 L187.6 910.5"/><path d="M 337.7 887.6 339.8 904.3 341.9 907.4 L 344.0 910.5"/>
<path d="M225.1 925.1 Q216.8 941.8 214.7 946.0 L212.6 950.2"/><path d="M 306.5 925.1 314.8 941.8 316.9 946.0 L 319.0 950.2"/>
</g>
<text x="215.1" y="864.6" font-size="12.5" fill="#6cb04a" stroke="#6cb04a" stroke-width="0.25" textLength="40.0" lengthAdjust="spacingAndGlyphs">MOs_a</text>
<text x="255.4" y="866.8" font-size="8.5" fill="#6cb04a">L</text>
<rect x="227.5" y="838.8" width="12" height="12" fill="none" stroke="#6cb04a" stroke-width="1.3" stroke-dasharray="3 1.6"/>
<text x="273.6" y="864.6" font-size="12.5" fill="#6cb04a" stroke="#6cb04a" stroke-width="0.25" textLength="41.0" lengthAdjust="spacingAndGlyphs">MOs_a</text>
<text x="314.9" y="866.8" font-size="8.5" fill="#6cb04a">R</text>
<rect x="297.4" y="840.9" width="12" height="12" fill="none" stroke="#6cb04a" stroke-width="1.3" stroke-dasharray="3 1.6"/>
<text x="174.4" y="887.2" font-size="12.5" fill="#26336e" stroke="#26336e" stroke-width="0.25" textLength="40.0" lengthAdjust="spacingAndGlyphs">MOp_a</text>
<text x="214.7" y="889.4" font-size="8.5" fill="#26336e">L</text>
<rect x="186.2" y="862.8" width="12" height="12" fill="none" stroke="#26336e" stroke-width="1.3" stroke-dasharray="3 1.6"/>
<text x="315.9" y="887.2" font-size="12.5" fill="#26336e" stroke="#26336e" stroke-width="0.25" textLength="41.5" lengthAdjust="spacingAndGlyphs">MOp_a</text>
<text x="357.7" y="889.4" font-size="8.5" fill="#26336e">R</text>
<rect x="333.5" y="864.9" width="12" height="12" fill="none" stroke="#26336e" stroke-width="1.3" stroke-dasharray="3 1.6"/>
<text x="222.6" y="890.1" font-size="12.5" fill="#2a6a2c" stroke="#2a6a2c" stroke-width="0.25" textLength="40.9" lengthAdjust="spacingAndGlyphs">MOs_p</text>
<text x="263.8" y="892.3" font-size="8.5" fill="#2a6a2c">L</text>
<rect x="243.8" y="893.7" width="12" height="12" fill="none" stroke="#2a6a2c" stroke-width="1.3" stroke-dasharray="3 1.6"/>
<text x="268.5" y="890.1" font-size="12.5" fill="#2a6a2c" stroke="#2a6a2c" stroke-width="0.25" textLength="39.8" lengthAdjust="spacingAndGlyphs">MOs_p</text>
<text x="308.6" y="892.3" font-size="8.5" fill="#2a6a2c">R</text>
<rect x="272.4" y="893.7" width="12" height="12" fill="none" stroke="#2a6a2c" stroke-width="1.3" stroke-dasharray="3 1.6"/>
<text x="202.6" y="910.5" font-size="12.5" fill="#8aaee0" stroke="#8aaee0" stroke-width="0.25" textLength="40.0" lengthAdjust="spacingAndGlyphs">MOp_p</text>
<text x="242.9" y="912.7" font-size="8.5" fill="#8aaee0">L</text>
<rect x="229.2" y="913.3" width="12" height="12" fill="none" stroke="#8aaee0" stroke-width="1.3" stroke-dasharray="3 1.6"/>
<text x="288.8" y="910.5" font-size="12.5" fill="#8aaee0" stroke="#8aaee0" stroke-width="0.25" textLength="41.4" lengthAdjust="spacingAndGlyphs">MOp_p</text>
<text x="330.5" y="912.7" font-size="8.5" fill="#8aaee0">R</text>
<rect x="287.6" y="912.9" width="12" height="12" fill="none" stroke="#8aaee0" stroke-width="1.3" stroke-dasharray="3 1.6"/>
<text x="147.5" y="924.7" font-size="12.5" fill="#8a7a2e" stroke="#8a7a2e" stroke-width="0.25" textLength="38.8" lengthAdjust="spacingAndGlyphs">SSp-fl</text>
<text x="186.6" y="926.9" font-size="8.5" fill="#8a7a2e">L</text>
<rect x="192.0" y="913.3" width="12" height="12" fill="none" stroke="#8a7a2e" stroke-width="1.3" stroke-dasharray="3 1.6"/>
<text x="338.9" y="926.2" font-size="12.5" fill="#8a7a2e" stroke="#8a7a2e" stroke-width="0.25" textLength="40.4" lengthAdjust="spacingAndGlyphs">SSp-fl</text>
<text x="379.6" y="928.4" font-size="8.5" fill="#8a7a2e">R</text>
<rect x="324.5" y="913.9" width="12" height="12" fill="none" stroke="#8a7a2e" stroke-width="1.3" stroke-dasharray="3 1.6"/>
<text x="224.7" y="942.5" font-size="12.5" fill="#c49a1c" stroke="#c49a1c" stroke-width="0.25" textLength="41.9" lengthAdjust="spacingAndGlyphs">SSp-hl</text>
<text x="266.9" y="944.7" font-size="8.5" fill="#c49a1c">L</text>
<rect x="211.4" y="925.4" width="12" height="12" fill="none" stroke="#c49a1c" stroke-width="1.3" stroke-dasharray="3 1.6"/>
<text x="269.0" y="942.5" font-size="12.5" fill="#c49a1c" stroke="#c49a1c" stroke-width="0.25" textLength="42.5" lengthAdjust="spacingAndGlyphs">SSp-hl</text>
<text x="311.8" y="944.7" font-size="8.5" fill="#c49a1c">R</text>
<rect x="306.4" y="924.4" width="12" height="12" fill="none" stroke="#c49a1c" stroke-width="1.3" stroke-dasharray="3 1.6"/>
<text x="223.0" y="963.7" font-size="12.5" fill="#f4c21c" stroke="#f4c21c" stroke-width="0.25" textLength="40.5" lengthAdjust="spacingAndGlyphs">SSp-tr</text>
<text x="263.8" y="965.9" font-size="8.5" fill="#f4c21c">L</text>
<rect x="210.4" y="943.8" width="12" height="12" fill="none" stroke="#f4c21c" stroke-width="1.3" stroke-dasharray="3 1.6"/>
<text x="269.4" y="963.7" font-size="12.5" fill="#f4c21c" stroke="#f4c21c" stroke-width="0.25" textLength="42.1" lengthAdjust="spacingAndGlyphs">SSp-tr</text>
<text x="311.8" y="965.9" font-size="8.5" fill="#f4c21c">R</text>
<rect x="307.2" y="944.2" width="12" height="12" fill="none" stroke="#f4c21c" stroke-width="1.3" stroke-dasharray="3 1.6"/>
<text x="143.8" y="963.7" font-size="12.5" fill="#e07444" stroke="#e07444" stroke-width="0.25" textLength="47.1" lengthAdjust="spacingAndGlyphs">SSp-bdf</text>
<text x="191.2" y="965.9" font-size="8.5" fill="#e07444">L</text>
<rect x="168.7" y="939.6" width="12" height="12" fill="none" stroke="#e07444" stroke-width="1.3" stroke-dasharray="3 1.6"/>
<text x="333.6" y="963.7" font-size="12.5" fill="#e07444" stroke="#e07444" stroke-width="0.25" textLength="50.9" lengthAdjust="spacingAndGlyphs">SSp-bdf</text>
<text x="384.8" y="965.9" font-size="8.5" fill="#e07444">R</text>
<rect x="348.5" y="939.6" width="12" height="12" fill="none" stroke="#e07444" stroke-width="1.3" stroke-dasharray="3 1.6"/>
<text x="171.9" y="981.5" font-size="12.5" fill="#5a3320" stroke="#5a3320" stroke-width="0.25" textLength="26.9" lengthAdjust="spacingAndGlyphs">VISa</text>
<text x="199.1" y="983.7" font-size="8.5" fill="#5a3320">L</text>
<rect x="199.3" y="963.0" width="12" height="12" fill="none" stroke="#5a3320" stroke-width="1.3" stroke-dasharray="3 1.6"/>
<text x="334.7" y="984.6" font-size="12.5" fill="#5a3320" stroke="#5a3320" stroke-width="0.25" textLength="28.9" lengthAdjust="spacingAndGlyphs">VISa</text>
<text x="363.9" y="986.8" font-size="8.5" fill="#5a3320">R</text>
<rect x="319.7" y="963.0" width="12" height="12" fill="none" stroke="#5a3320" stroke-width="1.3" stroke-dasharray="3 1.6"/>
<text x="230.4" y="997.8" font-size="12.5" fill="#7b3ab4" stroke="#7b3ab4" stroke-width="0.25" textLength="33.1" lengthAdjust="spacingAndGlyphs">RSPd</text>
<text x="263.8" y="1000.0" font-size="8.5" fill="#7b3ab4">L</text>
<rect x="243.8" y="972.4" width="12" height="12" fill="none" stroke="#7b3ab4" stroke-width="1.3" stroke-dasharray="3 1.6"/>
<text x="272.7" y="997.8" font-size="12.5" fill="#7b3ab4" stroke="#7b3ab4" stroke-width="0.25" textLength="34.6" lengthAdjust="spacingAndGlyphs">RSPd</text>
<text x="307.6" y="1000.0" font-size="8.5" fill="#7b3ab4">R</text>
<rect x="273.8" y="972.4" width="12" height="12" fill="none" stroke="#7b3ab4" stroke-width="1.3" stroke-dasharray="3 1.6"/>
<text x="185.5" y="1033.6" font-size="12.5" fill="#8c4526" stroke="#8c4526" stroke-width="0.25" textLength="27.9" lengthAdjust="spacingAndGlyphs">VISp</text>
<text x="213.7" y="1035.8" font-size="8.5" fill="#8c4526">L</text>
<rect x="190.4" y="1006.4" width="12" height="12" fill="none" stroke="#8c4526" stroke-width="1.3" stroke-dasharray="3 1.6"/>
<text x="315.3" y="1034.7" font-size="12.5" fill="#8c4526" stroke="#8c4526" stroke-width="0.25" textLength="29.5" lengthAdjust="spacingAndGlyphs">VISp</text>
<text x="345.1" y="1036.9" font-size="8.5" fill="#8c4526">R</text>
<rect x="321.8" y="1006.8" width="12" height="12" fill="none" stroke="#8c4526" stroke-width="1.3" stroke-dasharray="3 1.6"/>
<text x="407.6" y="838.0" font-size="54" font-weight="bold" textLength="28.5" lengthAdjust="spacingAndGlyphs">k</text>
<defs><filter id="jet" x="0" y="0" width="1" height="1" filterUnits="objectBoundingBox" color-interpolation-filters="sRGB">
<feGaussianBlur in="SourceGraphic" stdDeviation="1.9" result="b"/>
<feTurbulence type="fractalNoise" baseFrequency="0.85" numOctaves="1" seed="3" result="t"/>
<feColorMatrix in="t" type="matrix" values="1 0 0 0 0  1 0 0 0 0  1 0 0 0 0  0 0 0 0 1" result="n"/>
<feComposite in="b" in2="n" operator="arithmetic" k1="0" k2="1" k3="0.3" k4="-0.15" result="s"/>
<feComponentTransfer in="s"><feFuncR type="table" tableValues="0.25 0.12 0.04 0.00 0.08 0.15 0.32 0.75 0.96 0.96 0.92"/><feFuncG type="table" tableValues="0.04 0.05 0.11 0.33 0.68 0.80 0.86 0.90 0.80 0.35 0.10"/><feFuncB type="table" tableValues="0.45 0.52 0.62 0.86 0.82 0.50 0.20 0.15 0.10 0.05 0.05"/><feFuncA type="linear" slope="0" intercept="1"/></feComponentTransfer>
</filter></defs>
<g filter="url(#jet)"><rect x="506.8" y="837.5" width="702.8" height="69.9" fill="rgb(51,51,51)"/><path d="M1151.6 902.5 C1151.6 877.8 1164.4 866.8 1168.2 851.9 C1171.1 847.5 1176.9 847.5 1179.8 851.9 C1183.6 866.8 1196.4 877.8 1196.4 902.5 Z" fill="rgb(48,48,48)"/><path d="M870.6 902.5 C870.6 877.8 883.4 866.8 887.2 851.9 C890.1 847.5 895.9 847.5 898.8 851.9 C902.6 866.8 915.4 877.8 915.4 902.5 Z" fill="rgb(51,51,51)"/><path d="M940.6 902.5 C940.6 877.8 953.4 866.8 957.2 851.9 C960.1 847.5 965.9 847.5 968.8 851.9 C972.6 866.8 985.4 877.8 985.4 902.5 Z" fill="rgb(51,51,51)"/><path d="M1081.1 902.5 C1081.1 877.8 1093.9 866.8 1097.7 851.9 C1100.6 847.5 1106.4 847.5 1109.3 851.9 C1113.1 866.8 1125.9 877.8 1125.9 902.5 Z" fill="rgb(51,51,51)"/><path d="M798.2 902.5 C798.2 877.8 811.8 866.8 815.9 851.9 C818.9 847.5 825.1 847.5 828.1 851.9 C832.2 866.8 845.8 877.8 845.8 902.5 Z" fill="rgb(53,53,53)"/><path d="M1010.7 902.5 C1010.7 877.8 1024.3 866.8 1028.4 851.9 C1031.4 847.5 1037.6 847.5 1040.6 851.9 C1044.7 866.8 1058.3 877.8 1058.3 902.5 Z" fill="rgb(56,56,56)"/><path d="M512.5 902.5 C512.5 877.8 528.5 866.8 533.3 851.9 C536.9 847.5 544.1 847.5 547.7 851.9 C552.5 866.8 568.5 877.8 568.5 902.5 Z" fill="rgb(66,66,66)"/><path d="M583.5 902.5 C583.5 877.8 599.5 866.8 604.3 851.9 C607.9 847.5 615.1 847.5 618.7 851.9 C623.5 866.8 639.5 877.8 639.5 902.5 Z" fill="rgb(66,66,66)"/><path d="M653.5 902.5 C653.5 877.8 669.5 866.8 674.3 851.9 C677.9 847.5 685.1 847.5 688.7 851.9 C693.5 866.8 709.5 877.8 709.5 902.5 Z" fill="rgb(66,66,66)"/><path d="M724.5 902.5 C724.5 877.8 740.5 866.8 745.3 851.9 C748.9 847.5 756.1 847.5 759.7 851.9 C764.5 866.8 780.5 877.8 780.5 902.5 Z" fill="rgb(66,66,66)"/><path d="M1155.6 900.5 C1155.6 878.5 1166.8 868.6 1169.7 855.4 C1171.8 851.5 1176.2 851.5 1178.3 855.4 C1181.2 868.6 1192.4 878.5 1192.4 900.5 Z" fill="rgb(66,66,66)"/><path d="M874.6 900.5 C874.6 878.5 885.8 868.6 888.7 855.4 C890.8 851.5 895.2 851.5 897.3 855.4 C900.2 868.6 911.4 878.5 911.4 900.5 Z" fill="rgb(68,68,68)"/><path d="M944.6 900.5 C944.6 878.5 955.8 868.6 958.7 855.4 C960.8 851.5 965.2 851.5 967.3 855.4 C970.2 868.6 981.4 878.5 981.4 900.5 Z" fill="rgb(68,68,68)"/><path d="M1085.1 900.5 C1085.1 878.5 1096.3 868.6 1099.2 855.4 C1101.3 851.5 1105.7 851.5 1107.8 855.4 C1110.7 868.6 1121.9 878.5 1121.9 900.5 Z" fill="rgb(68,68,68)"/><path d="M802.5 900.5 C802.5 878.5 814.4 868.6 817.4 855.4 C819.7 851.5 824.3 851.5 826.6 855.4 C829.6 868.6 841.5 878.5 841.5 900.5 Z" fill="rgb(71,71,71)"/><path d="M1015.0 900.5 C1015.0 878.5 1026.8 868.6 1029.9 855.4 C1032.2 851.5 1036.8 851.5 1039.1 855.4 C1042.2 868.6 1054.0 878.5 1054.0 900.5 Z" fill="rgb(73,73,73)"/><ellipse cx="1174.0" cy="859.5" rx="7" ry="13" fill="rgb(79,79,79)"/><ellipse cx="893.0" cy="859.5" rx="7" ry="13" fill="rgb(81,81,81)"/><ellipse cx="963.0" cy="859.5" rx="7" ry="13" fill="rgb(81,81,81)"/><ellipse cx="1103.5" cy="859.5" rx="7" ry="13" fill="rgb(81,81,81)"/><path d="M517.5 900.5 C517.5 878.5 531.5 868.6 535.1 855.4 C537.8 851.5 543.2 851.5 545.9 855.4 C549.5 868.6 563.5 878.5 563.5 900.5 Z" fill="rgb(84,84,84)"/><path d="M588.5 900.5 C588.5 878.5 602.5 868.6 606.1 855.4 C608.8 851.5 614.2 851.5 616.9 855.4 C620.5 868.6 634.5 878.5 634.5 900.5 Z" fill="rgb(84,84,84)"/><path d="M658.5 900.5 C658.5 878.5 672.5 868.6 676.1 855.4 C678.8 851.5 684.2 851.5 686.9 855.4 C690.5 868.6 704.5 878.5 704.5 900.5 Z" fill="rgb(84,84,84)"/><path d="M729.5 900.5 C729.5 878.5 743.5 868.6 747.1 855.4 C749.8 851.5 755.2 851.5 757.9 855.4 C761.5 868.6 775.5 878.5 775.5 900.5 Z" fill="rgb(84,84,84)"/><ellipse cx="822.0" cy="859.5" rx="7" ry="13" fill="rgb(84,84,84)"/><ellipse cx="1034.5" cy="859.5" rx="7" ry="13" fill="rgb(86,86,86)"/><ellipse cx="540.5" cy="859.5" rx="7" ry="13" fill="rgb(96,96,96)"/><ellipse cx="611.5" cy="859.5" rx="7" ry="13" fill="rgb(96,96,96)"/><ellipse cx="681.5" cy="859.5" rx="7" ry="13" fill="rgb(96,96,96)"/><ellipse cx="752.5" cy="859.5" rx="7" ry="13" fill="rgb(96,96,96)"/><ellipse cx="887.0" cy="895.5" rx="4.0" ry="6" fill="rgb(101,101,101)"/><ellipse cx="901.0" cy="895.5" rx="4.0" ry="6" fill="rgb(101,101,101)"/><ellipse cx="957.0" cy="895.5" rx="4.0" ry="6" fill="rgb(101,101,101)"/><ellipse cx="971.0" cy="895.5" rx="4.0" ry="6" fill="rgb(101,101,101)"/><ellipse cx="1168.0" cy="895.5" rx="4.0" ry="6" fill="rgb(101,101,101)"/><ellipse cx="1182.0" cy="895.5" rx="4.0" ry="6" fill="rgb(101,101,101)"/><ellipse cx="535.5" cy="844.5" rx="4.5" ry="3.5" fill="rgb(107,107,107)"/><ellipse cx="606.5" cy="844.5" rx="4.5" ry="3.5" fill="rgb(107,107,107)"/><ellipse cx="676.5" cy="844.5" rx="4.5" ry="3.5" fill="rgb(107,107,107)"/><ellipse cx="747.5" cy="844.5" rx="4.5" ry="3.5" fill="rgb(107,107,107)"/><ellipse cx="817.0" cy="844.5" rx="4.5" ry="3.5" fill="rgb(107,107,107)"/><ellipse cx="888.0" cy="844.5" rx="4.5" ry="3.5" fill="rgb(107,107,107)"/><ellipse cx="958.0" cy="844.5" rx="4.5" ry="3.5" fill="rgb(107,107,107)"/><ellipse cx="1029.5" cy="844.5" rx="4.5" ry="3.5" fill="rgb(107,107,107)"/><ellipse cx="1098.5" cy="844.5" rx="4.5" ry="3.5" fill="rgb(107,107,107)"/><ellipse cx="1097.5" cy="895.5" rx="4.0" ry="6" fill="rgb(107,107,107)"/><ellipse cx="1169.0" cy="844.5" rx="4.5" ry="3.5" fill="rgb(107,107,107)"/><ellipse cx="1028.5" cy="895.5" rx="4.25" ry="6" fill="rgb(112,112,112)"/><ellipse cx="1042.5" cy="895.5" rx="4.25" ry="6" fill="rgb(112,112,112)"/><ellipse cx="1111.5" cy="895.5" rx="4.0" ry="6" fill="rgb(112,112,112)"/><ellipse cx="546.5" cy="844.5" rx="4.5" ry="3.5" fill="rgb(114,114,114)"/><ellipse cx="617.5" cy="844.5" rx="4.5" ry="3.5" fill="rgb(114,114,114)"/><ellipse cx="687.5" cy="844.5" rx="4.5" ry="3.5" fill="rgb(114,114,114)"/><ellipse cx="758.5" cy="844.5" rx="4.5" ry="3.5" fill="rgb(114,114,114)"/><ellipse cx="828.0" cy="844.5" rx="4.5" ry="3.5" fill="rgb(114,114,114)"/><ellipse cx="899.0" cy="844.5" rx="4.5" ry="3.5" fill="rgb(114,114,114)"/><ellipse cx="969.0" cy="844.5" rx="4.5" ry="3.5" fill="rgb(114,114,114)"/><ellipse cx="1040.5" cy="844.5" rx="4.5" ry="3.5" fill="rgb(114,114,114)"/><ellipse cx="1109.5" cy="844.5" rx="4.5" ry="3.5" fill="rgb(114,114,114)"/><ellipse cx="1180.0" cy="844.5" rx="4.5" ry="3.5" fill="rgb(114,114,114)"/><ellipse cx="830.0" cy="895.5" rx="4.25" ry="6" fill="rgb(117,117,117)"/><ellipse cx="883.5" cy="878.5" rx="7.6000000000000005" ry="12.0" fill="rgb(122,122,122)"/><ellipse cx="903.0" cy="878.5" rx="7.2" ry="11.600000000000001" fill="rgb(122,122,122)"/><ellipse cx="953.5" cy="878.5" rx="7.6000000000000005" ry="12.0" fill="rgb(122,122,122)"/><ellipse cx="973.0" cy="878.5" rx="7.2" ry="11.600000000000001" fill="rgb(122,122,122)"/><ellipse cx="1164.5" cy="878.5" rx="7.6000000000000005" ry="12.0" fill="rgb(122,122,122)"/><ellipse cx="1184.0" cy="878.5" rx="7.2" ry="11.600000000000001" fill="rgb(122,122,122)"/><ellipse cx="816.0" cy="895.5" rx="4.25" ry="6" fill="rgb(122,122,122)"/><ellipse cx="1094.0" cy="878.5" rx="7.6000000000000005" ry="12.0" fill="rgb(127,127,127)"/><ellipse cx="534.5" cy="895.5" rx="5.0" ry="6" fill="rgb(132,132,132)"/><ellipse cx="548.5" cy="895.5" rx="5.0" ry="6" fill="rgb(132,132,132)"/><ellipse cx="605.5" cy="895.5" rx="5.0" ry="6" fill="rgb(132,132,132)"/><ellipse cx="619.5" cy="895.5" rx="5.0" ry="6" fill="rgb(132,132,132)"/><ellipse cx="1025.0" cy="878.5" rx="8.075" ry="12.75" fill="rgb(132,132,132)"/><ellipse cx="1044.5" cy="878.5" rx="7.6499999999999995" ry="12.325" fill="rgb(132,132,132)"/><ellipse cx="1113.5" cy="878.5" rx="7.2" ry="11.600000000000001" fill="rgb(132,132,132)"/><ellipse cx="689.5" cy="895.5" rx="5.0" ry="6" fill="rgb(137,137,137)"/><ellipse cx="760.5" cy="895.5" rx="5.0" ry="6" fill="rgb(137,137,137)"/><ellipse cx="832.0" cy="878.5" rx="7.6499999999999995" ry="12.325" fill="rgb(137,137,137)"/><ellipse cx="812.5" cy="878.5" rx="8.075" ry="12.75" fill="rgb(142,142,142)"/><ellipse cx="883.0" cy="875.5" rx="5.5" ry="6.5" fill="rgb(142,142,142)"/><ellipse cx="1164.0" cy="875.5" rx="5.5" ry="6.5" fill="rgb(142,142,142)"/><ellipse cx="1185.0" cy="877.5" rx="4.5" ry="6" fill="rgb(142,142,142)"/><ellipse cx="904.0" cy="877.5" rx="4.5" ry="6" fill="rgb(147,147,147)"/><ellipse cx="953.0" cy="875.5" rx="5.5" ry="6.5" fill="rgb(147,147,147)"/><ellipse cx="675.5" cy="895.5" rx="5.0" ry="6" fill="rgb(147,147,147)"/><ellipse cx="746.5" cy="895.5" rx="5.0" ry="6" fill="rgb(147,147,147)"/><ellipse cx="531.0" cy="878.5" rx="9.5" ry="15.0" fill="rgb(153,153,153)"/><ellipse cx="550.5" cy="878.5" rx="9.0" ry="14.5" fill="rgb(153,153,153)"/><ellipse cx="602.0" cy="878.5" rx="9.5" ry="15.0" fill="rgb(153,153,153)"/><ellipse cx="621.5" cy="878.5" rx="9.0" ry="14.5" fill="rgb(153,153,153)"/><ellipse cx="1093.5" cy="875.5" rx="5.5" ry="6.5" fill="rgb(153,153,153)"/><ellipse cx="691.5" cy="878.5" rx="9.0" ry="14.5" fill="rgb(158,158,158)"/><ellipse cx="762.5" cy="878.5" rx="9.0" ry="14.5" fill="rgb(158,158,158)"/><ellipse cx="974.0" cy="877.5" rx="4.5" ry="6" fill="rgb(158,158,158)"/><ellipse cx="622.5" cy="877.5" rx="4.5" ry="6" fill="rgb(168,168,168)"/><ellipse cx="672.0" cy="878.5" rx="9.5" ry="15.0" fill="rgb(168,168,168)"/><ellipse cx="743.0" cy="878.5" rx="9.5" ry="15.0" fill="rgb(168,168,168)"/><ellipse cx="1024.5" cy="875.5" rx="5.5" ry="6.5" fill="rgb(168,168,168)"/><ellipse cx="833.0" cy="877.5" rx="4.5" ry="6" fill="rgb(173,173,173)"/><ellipse cx="1114.5" cy="877.5" rx="4.5" ry="6" fill="rgb(178,178,178)"/><ellipse cx="551.5" cy="877.5" rx="4.5" ry="6" fill="rgb(183,183,183)"/><ellipse cx="692.5" cy="877.5" rx="4.5" ry="6" fill="rgb(183,183,183)"/><ellipse cx="812.0" cy="875.5" rx="5.5" ry="6.5" fill="rgb(183,183,183)"/><ellipse cx="1045.5" cy="877.5" rx="4.5" ry="6" fill="rgb(183,183,183)"/><ellipse cx="601.5" cy="875.5" rx="5.5" ry="6.5" fill="rgb(198,198,198)"/><ellipse cx="763.5" cy="877.5" rx="4.5" ry="6" fill="rgb(209,209,209)"/><ellipse cx="530.5" cy="875.5" rx="5.5" ry="6.5" fill="rgb(216,216,216)"/><ellipse cx="541.0" cy="885.5" rx="1.7" ry="16" fill="rgb(107,107,107)"/><ellipse cx="612.0" cy="885.5" rx="1.7" ry="16" fill="rgb(107,107,107)"/><ellipse cx="682.0" cy="885.5" rx="1.7" ry="16" fill="rgb(112,112,112)"/><ellipse cx="753.0" cy="885.5" rx="1.7" ry="16" fill="rgb(112,112,112)"/><ellipse cx="822.5" cy="885.5" rx="1.7" ry="16" fill="rgb(91,91,91)"/><ellipse cx="893.5" cy="885.5" rx="1.7" ry="16" fill="rgb(76,76,76)"/><ellipse cx="963.5" cy="885.5" rx="1.7" ry="16" fill="rgb(76,76,76)"/><ellipse cx="1035.0" cy="885.5" rx="1.7" ry="16" fill="rgb(86,86,86)"/><ellipse cx="1104.0" cy="885.5" rx="1.7" ry="16" fill="rgb(81,81,81)"/><ellipse cx="1174.5" cy="885.5" rx="1.7" ry="16" fill="rgb(76,76,76)"/><ellipse cx="671.5" cy="875.5" rx="5.5" ry="6.5" fill="rgb(255,255,255)"/><ellipse cx="742.5" cy="875.5" rx="5.5" ry="6.5" fill="rgb(255,255,255)"/></g>
<rect x="512.8" y="843.0" width="4.5" height="2.0" fill="#fff"/>
<g filter="url(#jet)"><rect x="506.8" y="917.8" width="702.8" height="69.1" fill="rgb(51,51,51)"/><ellipse cx="603.5" cy="945.8" rx="7" ry="17" fill="rgb(25,25,25)"/><ellipse cx="620.5" cy="945.8" rx="7" ry="17" fill="rgb(25,25,25)"/><ellipse cx="893.0" cy="942.8" rx="14" ry="12" fill="rgb(30,30,30)"/><ellipse cx="963.0" cy="935.8" rx="10" ry="10" fill="rgb(30,30,30)"/><ellipse cx="545.5" cy="951.8" rx="6" ry="22" fill="rgb(33,33,33)"/><ellipse cx="535.5" cy="947.8" rx="7" ry="20" fill="rgb(35,35,35)"/><ellipse cx="822.0" cy="952.8" rx="8" ry="14" fill="rgb(38,38,38)"/><ellipse cx="556.5" cy="957.8" rx="8" ry="15" fill="rgb(61,61,61)"/><path d="M587.5 979.8 C587.5 957.3 597.5 947.3 603.1 933.8 C607.3 929.8 615.7 929.8 619.9 933.8 C625.5 947.3 635.5 957.3 635.5 979.8 Z" fill="rgb(63,63,63)"/><path d="M797.0 979.8 C797.0 957.3 808.0 947.3 813.6 933.8 C817.8 929.8 826.2 929.8 830.4 933.8 C836.0 947.3 847.0 957.3 847.0 979.8 Z" fill="rgb(68,68,68)"/><ellipse cx="526.5" cy="972.8" rx="3" ry="5" fill="rgb(76,76,76)"/><ellipse cx="893.0" cy="974.8" rx="20" ry="6" fill="rgb(89,89,89)"/><path d="M651.5 978.8 C651.5 956.8 670.5 946.9 674.9 933.7 C678.2 929.8 684.8 929.8 688.1 933.7 C692.5 946.9 711.5 956.8 711.5 978.8 Z" fill="rgb(91,91,91)"/><path d="M1149.0 978.8 C1149.0 957.2 1162.0 947.6 1166.8 934.6 C1170.4 930.8 1177.6 930.8 1181.2 934.6 C1186.0 947.6 1199.0 957.2 1199.0 978.8 Z" fill="rgb(102,102,102)"/><path d="M725.5 978.8 C725.5 955.8 730.5 945.6 739.3 931.9 C745.9 927.8 759.1 927.8 765.7 931.9 C774.5 945.6 779.5 955.8 779.5 978.8 Z" fill="rgb(104,104,104)"/><path d="M938.0 979.8 C938.0 963.6 955.0 956.4 958.2 946.7 C960.6 943.8 965.4 943.8 967.8 946.7 C971.0 956.4 988.0 963.6 988.0 979.8 Z" fill="rgb(107,107,107)"/><path d="M1006.5 978.8 C1006.5 956.8 1014.5 946.9 1022.5 933.7 C1028.5 929.8 1040.5 929.8 1046.5 933.7 C1054.5 946.9 1062.5 956.8 1062.5 978.8 Z" fill="rgb(107,107,107)"/><path d="M1076.5 978.8 C1076.5 956.3 1081.5 946.3 1090.3 932.8 C1096.9 928.8 1110.1 928.8 1116.7 932.8 C1125.5 946.3 1130.5 956.3 1130.5 978.8 Z" fill="rgb(107,107,107)"/><path d="M661.5 976.8 C661.5 961.0 673.5 954.0 676.7 944.6 C679.1 941.8 683.9 941.8 686.3 944.6 C689.5 954.0 701.5 961.0 701.5 976.8 Z" fill="rgb(112,112,112)"/><ellipse cx="617.5" cy="972.8" rx="3" ry="5.5" fill="rgb(117,117,117)"/><ellipse cx="605.5" cy="972.8" rx="3" ry="5.5" fill="rgb(127,127,127)"/><ellipse cx="744.5" cy="944.8" rx="4" ry="4" fill="rgb(127,127,127)"/><ellipse cx="1103.5" cy="955.8" rx="18" ry="18" fill="rgb(127,127,127)"/><ellipse cx="744.5" cy="967.8" rx="4" ry="5" fill="rgb(132,132,132)"/><ellipse cx="813.0" cy="972.8" rx="4" ry="5" fill="rgb(140,140,140)"/><ellipse cx="830.0" cy="970.8" rx="4" ry="5" fill="rgb(140,140,140)"/><ellipse cx="1174.0" cy="963.8" rx="14" ry="13" fill="rgb(140,140,140)"/><ellipse cx="674.5" cy="963.8" rx="5.5" ry="11" fill="rgb(153,153,153)"/><ellipse cx="689.5" cy="963.8" rx="5.5" ry="11" fill="rgb(153,153,153)"/><ellipse cx="1034.5" cy="964.8" rx="21" ry="14" fill="rgb(153,153,153)"/><ellipse cx="1168.0" cy="973.8" rx="4" ry="4" fill="rgb(165,165,165)"/><ellipse cx="900.0" cy="972.8" rx="3.5" ry="4" fill="rgb(168,168,168)"/><ellipse cx="1105.5" cy="970.8" rx="13" ry="8" fill="rgb(168,168,168)"/><ellipse cx="690.5" cy="968.8" rx="3" ry="4" fill="rgb(173,173,173)"/><ellipse cx="760.5" cy="969.8" rx="5" ry="6" fill="rgb(173,173,173)"/><ellipse cx="673.5" cy="964.8" rx="3" ry="4" fill="rgb(178,178,178)"/><ellipse cx="1181.0" cy="973.8" rx="4" ry="4" fill="rgb(178,178,178)"/><ellipse cx="885.0" cy="972.8" rx="4" ry="4" fill="rgb(183,183,183)"/><ellipse cx="955.0" cy="966.8" rx="6" ry="7" fill="rgb(183,183,183)"/><ellipse cx="1034.5" cy="965.8" rx="15" ry="11" fill="rgb(183,183,183)"/><ellipse cx="971.0" cy="966.8" rx="6" ry="7" fill="rgb(193,193,193)"/><ellipse cx="1098.5" cy="971.8" rx="4" ry="4" fill="rgb(204,204,204)"/><ellipse cx="970.0" cy="967.8" rx="3" ry="3" fill="rgb(224,224,224)"/><ellipse cx="1029.5" cy="964.8" rx="4.5" ry="9" fill="rgb(242,242,242)"/><ellipse cx="1106.5" cy="971.8" rx="4" ry="5" fill="rgb(247,247,247)"/><ellipse cx="681.5" cy="947.8" rx="1.6" ry="20" fill="rgb(66,66,66)"/><ellipse cx="752.5" cy="952.8" rx="1.6" ry="24" fill="rgb(81,81,81)"/><ellipse cx="752.5" cy="950.8" rx="1.6" ry="25" fill="rgb(61,61,61)"/><ellipse cx="1034.5" cy="947.8" rx="1.6" ry="20" fill="rgb(76,76,76)"/><ellipse cx="1103.5" cy="950.8" rx="1.6" ry="25" fill="rgb(71,71,71)"/><ellipse cx="1174.0" cy="952.8" rx="1.6" ry="22" fill="rgb(71,71,71)"/><ellipse cx="1040.5" cy="964.8" rx="6.5" ry="11" fill="rgb(255,255,255)"/></g>
<rect x="512.8" y="923.3" width="4.5" height="2.0" fill="#fff"/>
<g filter="url(#jet)"><rect x="506.8" y="997.3" width="702.8" height="70.1" fill="rgb(20,20,20)"/><ellipse cx="893.0" cy="1033.3" rx="16" ry="18" fill="rgb(25,25,25)"/><path d="M591.5 1059.3 C591.5 1036.8 597.5 1026.8 603.1 1013.3 C607.3 1009.3 615.7 1009.3 619.9 1013.3 C625.5 1026.8 631.5 1036.8 631.5 1059.3 Z" fill="rgb(33,33,33)"/><ellipse cx="963.0" cy="1037.3" rx="8" ry="10" fill="rgb(35,35,35)"/><path d="M800.0 1059.3 C800.0 1036.8 807.0 1026.8 813.0 1013.3 C817.5 1009.3 826.5 1009.3 831.0 1013.3 C837.0 1026.8 844.0 1036.8 844.0 1059.3 Z" fill="rgb(38,38,38)"/><ellipse cx="618.5" cy="1037.3" rx="5" ry="14" fill="rgb(40,40,40)"/><ellipse cx="605.5" cy="1037.3" rx="5" ry="14" fill="rgb(45,45,45)"/><ellipse cx="815.0" cy="1035.3" rx="6" ry="18" fill="rgb(51,51,51)"/><ellipse cx="829.0" cy="1035.3" rx="6" ry="18" fill="rgb(51,51,51)"/><path d="M730.5 1059.3 C730.5 1036.8 736.5 1026.8 742.9 1013.3 C747.7 1009.3 757.3 1009.3 762.1 1013.3 C768.5 1026.8 774.5 1036.8 774.5 1059.3 Z" fill="rgb(56,56,56)"/><ellipse cx="745.5" cy="1035.3" rx="7" ry="20" fill="rgb(76,76,76)"/><ellipse cx="759.5" cy="1035.3" rx="7" ry="20" fill="rgb(76,76,76)"/><path d="M1151.0 1059.3 C1151.0 1035.9 1159.0 1025.5 1165.0 1011.5 C1169.5 1007.3 1178.5 1007.3 1183.0 1011.5 C1189.0 1025.5 1197.0 1035.9 1197.0 1059.3 Z" fill="rgb(86,86,86)"/><path d="M657.5 1059.3 C657.5 1035.0 663.5 1024.2 670.7 1009.6 C676.1 1005.3 686.9 1005.3 692.3 1009.6 C699.5 1024.2 705.5 1035.0 705.5 1059.3 Z" fill="rgb(91,91,91)"/><path d="M1010.5 1059.3 C1010.5 1036.8 1022.5 1026.8 1027.3 1013.3 C1030.9 1009.3 1038.1 1009.3 1041.7 1013.3 C1046.5 1026.8 1058.5 1036.8 1058.5 1059.3 Z" fill="rgb(91,91,91)"/><ellipse cx="758.5" cy="1049.3" rx="3" ry="4" fill="rgb(102,102,102)"/><path d="M1077.5 1059.3 C1077.5 1035.0 1085.5 1024.2 1092.7 1009.6 C1098.1 1005.3 1108.9 1005.3 1114.3 1009.6 C1121.5 1024.2 1129.5 1035.0 1129.5 1059.3 Z" fill="rgb(102,102,102)"/><ellipse cx="673.5" cy="1035.3" rx="9" ry="22" fill="rgb(114,114,114)"/><ellipse cx="689.5" cy="1035.3" rx="9" ry="22" fill="rgb(114,114,114)"/><ellipse cx="1174.0" cy="1045.3" rx="11" ry="10" fill="rgb(122,122,122)"/><ellipse cx="1034.5" cy="1042.3" rx="13" ry="14" fill="rgb(127,127,127)"/><ellipse cx="1103.5" cy="1037.3" rx="17" ry="18" fill="rgb(140,140,140)"/><ellipse cx="1036.5" cy="1022.3" rx="4" ry="6" fill="rgb(147,147,147)"/><ellipse cx="1169.0" cy="1049.3" rx="3" ry="4" fill="rgb(153,153,153)"/><ellipse cx="1179.0" cy="1049.3" rx="3" ry="4" fill="rgb(153,153,153)"/><ellipse cx="674.5" cy="1044.3" rx="5" ry="9" fill="rgb(158,158,158)"/><ellipse cx="688.5" cy="1047.3" rx="5" ry="7" fill="rgb(163,163,163)"/><ellipse cx="1027.5" cy="1047.3" rx="5" ry="7" fill="rgb(183,183,183)"/><ellipse cx="1096.5" cy="1040.3" rx="6" ry="10" fill="rgb(216,216,216)"/><ellipse cx="1041.5" cy="1044.3" rx="6" ry="10" fill="rgb(229,229,229)"/><ellipse cx="1110.5" cy="1040.3" rx="6" ry="11" fill="rgb(242,242,242)"/><ellipse cx="611.5" cy="1033.3" rx="1.6" ry="22" fill="rgb(25,25,25)"/><ellipse cx="681.5" cy="1032.3" rx="1.6" ry="24" fill="rgb(61,61,61)"/><ellipse cx="752.5" cy="1033.3" rx="1.6" ry="24" fill="rgb(35,35,35)"/><ellipse cx="822.0" cy="1033.3" rx="1.6" ry="22" fill="rgb(25,25,25)"/><ellipse cx="1034.5" cy="1027.3" rx="1.6" ry="20" fill="rgb(76,76,76)"/><ellipse cx="1103.5" cy="1032.3" rx="1.6" ry="26" fill="rgb(81,81,81)"/><ellipse cx="1174.0" cy="1032.3" rx="1.6" ry="22" fill="rgb(61,61,61)"/></g>
<rect x="512.8" y="1002.8" width="4.5" height="2.0" fill="#fff"/>
<g fill="#fff"><circle cx="541.5" cy="871.0" r="1.9"/><circle cx="612.5" cy="871.0" r="1.9"/><circle cx="682.5" cy="871.0" r="1.9"/><circle cx="753.5" cy="871.0" r="1.9"/><circle cx="823.0" cy="871.0" r="1.9"/><circle cx="894.0" cy="871.0" r="1.9"/><circle cx="964.0" cy="871.0" r="1.9"/><circle cx="1035.5" cy="871.0" r="1.9"/><circle cx="1104.5" cy="871.0" r="1.9"/><circle cx="1175.0" cy="871.0" r="1.9"/></g>
<text x="543.4" y="834.7" font-size="18" text-anchor="middle" fill="#111" textLength="12.3" lengthAdjust="spacingAndGlyphs">0</text>
<text x="614.9" y="834.7" font-size="18" text-anchor="middle" fill="#111" textLength="33.3" lengthAdjust="spacingAndGlyphs">100</text>
<text x="683.4" y="834.7" font-size="18" text-anchor="middle" fill="#111" textLength="33.3" lengthAdjust="spacingAndGlyphs">200</text>
<text x="752.3" y="834.7" font-size="18" text-anchor="middle" fill="#111" textLength="33.3" lengthAdjust="spacingAndGlyphs">300</text>
<text x="821.9" y="834.7" font-size="18" text-anchor="middle" fill="#111" textLength="33.3" lengthAdjust="spacingAndGlyphs">400</text>
<text x="894.0" y="834.7" font-size="18" text-anchor="middle" fill="#111" textLength="33.3" lengthAdjust="spacingAndGlyphs">500</text>
<text x="961.7" y="834.7" font-size="18" text-anchor="middle" fill="#111" textLength="33.3" lengthAdjust="spacingAndGlyphs">600</text>
<text x="1034.9" y="834.7" font-size="18" text-anchor="middle" fill="#111" textLength="33.3" lengthAdjust="spacingAndGlyphs">700</text>
<text x="1101.9" y="834.7" font-size="18" text-anchor="middle" fill="#111" textLength="33.3" lengthAdjust="spacingAndGlyphs">800</text>
<text x="1148.6" y="834.7" font-size="18" fill="#111" textLength="65.3" lengthAdjust="spacingAndGlyphs">900 ms</text>
<text x="498.0" y="871.2" font-size="21" text-anchor="middle" font-weight="bold" fill="#111" textLength="71.7" lengthAdjust="spacingAndGlyphs" transform="rotate(-90 498.0 871.2)">AWAKE</text>
<text x="498.0" y="953.6" font-size="21" text-anchor="middle" font-weight="bold" fill="#111" textLength="54.7" lengthAdjust="spacingAndGlyphs" transform="rotate(-90 498.0 953.6)">LIGHT</text>
<text x="498.0" y="1031.5" font-size="21" text-anchor="middle" font-weight="bold" fill="#111" textLength="46.7" lengthAdjust="spacingAndGlyphs" transform="rotate(-90 498.0 1031.5)">DEEP</text>
<path d="M1233.3 885.1 L1233.8 868.6 L1234.4 870.2 L1234.9 874.5 L1235.5 886.5 L1236.0 884.0 L1236.6 875.7 L1237.1 872.6 L1237.7 868.7 L1238.2 881.5 L1238.8 875.2 L1239.3 881.5 L1239.9 868.9 L1240.4 875.1 L1241.0 869.3 L1241.5 870.1 L1242.1 883.7 L1242.6 872.9 L1243.2 875.8 L1243.7 869.5 L1244.3 883.4 L1244.8 884.1 L1245.4 874.2 L1245.9 882.2 L1246.5 870.3 L1247.0 878.9 L1247.6 884.1 L1248.1 882.4 L1248.7 868.4 L1249.2 871.5 L1249.8 864.2 L1250.3 882.7 L1250.9 868.1 L1251.4 880.1 L1252.0 870.5 L1252.5 870.1 L1253.1 875.2 L1253.6 869.7 L1254.2 884.8 L1254.7 890.0 L1255.3 889.7 L1255.8 875.2 L1256.4 891.2 L1256.9 877.1 L1257.5 879.1 L1258.0 892.2 L1258.6 887.1 L1259.1 878.4 L1259.7 887.4 L1260.2 875.9 L1260.8 892.8 L1261.3 875.1 L1261.9 872.9 L1262.4 884.9 L1263.0 891.2 L1263.5 889.7 L1264.1 879.9 L1264.6 873.9 L1265.2 890.8 L1265.7 872.2 L1266.3 874.8 L1266.8 884.6 L1267.4 886.6 L1267.9 872.6 L1268.5 884.4 L1269.0 871.3 L1269.6 890.6 L1270.1 886.5 L1270.7 886.3 L1271.2 877.4 L1271.8 873.1 L1272.3 888.8 L1272.9 876.8 L1273.4 885.3 L1274.0 881.2 L1274.5 885.7 L1275.1 869.5 L1275.6 883.3 L1276.2 884.6 L1276.7 883.1 L1277.3 883.6 L1277.8 880.2 L1278.4 866.4 L1278.9 876.1 L1279.5 876.7 L1280.0 875.5 L1280.6 878.7 L1281.1 875.9 L1281.7 862.6 L1282.2 882.0 L1282.8 879.1 L1283.3 870.1 L1283.9 883.9 L1284.4 879.3 L1285.0 867.8 L1285.5 879.4 L1286.1 880.7 L1286.6 884.3 L1287.2 873.2 L1287.7 883.9 L1288.3 873.2 L1288.8 870.0 L1289.4 867.2 L1289.9 873.9 L1290.5 874.4 L1291.0 871.5 L1291.6 872.1 L1292.1 882.6 L1292.7 871.0 L1293.2 870.1 L1293.8 879.9 L1294.3 887.7 L1294.9 887.2 L1295.4 888.1 L1296.0 881.3 L1296.5 888.3 L1297.1 888.5 L1297.6 873.7 L1298.2 884.9 L1298.7 872.6 L1299.3 889.2 L1299.8 872.9 L1300.4 888.5 L1300.9 875.1 L1301.5 886.8 L1302.0 875.9 L1302.6 886.1 L1303.1 874.8 L1303.7 890.7 L1304.2 886.1 L1304.8 874.3 L1305.3 889.0 L1305.9 886.9 L1306.4 882.9 L1307.0 886.4 L1307.5 883.2 L1308.1 876.5 L1308.6 882.8 L1309.2 869.9 L1309.7 879.6 L1310.3 880.7 L1310.8 884.5 L1311.4 870.0 L1311.9 868.1 L1312.5 880.4 L1313.0 882.6 L1313.6 874.9 L1314.1 873.3 L1314.7 885.5 L1315.2 873.7 L1315.8 887.6 L1316.3 878.5 L1316.9 887.8 L1317.4 872.7 L1318.0 880.0 L1318.5 889.0 L1319.1 891.2 L1319.6 888.2 L1320.2 873.2 L1320.7 890.9 L1321.3 877.8 L1321.8 874.5 L1322.4 888.6 L1322.9 891.1 L1323.5 878.3 L1324.0 891.3 L1324.6 875.9 L1325.1 878.4 L1325.7 876.5 L1326.2 871.9 L1326.8 875.1 L1327.3 889.0 L1327.9 886.1 L1328.4 874.9 L1329.0 873.5 L1329.5 869.1 L1330.1 866.7 L1330.6 879.8 L1331.2 871.4 L1331.7 874.4 L1332.3 874.9 L1332.8 870.2 L1333.4 873.5 L1333.9 869.9 L1334.5 875.9 L1335.0 873.4 L1335.6 883.8 L1336.1 887.1 L1336.7 870.1 L1337.2 871.0 L1337.8 886.8 L1338.3 873.3 L1338.9 873.3 L1339.4 883.4 L1340.0 868.7 L1340.5 882.7 L1341.1 880.5 L1341.6 869.8 L1342.2 870.4 L1342.7 874.3 L1343.3 870.9 L1343.8 880.9 L1344.4 882.9 L1344.9 879.9 L1345.5 870.8 L1346.0 879.6 L1346.6 867.7 L1347.1 884.8 L1347.7 869.4 L1348.2 867.7 L1348.8 886.2 L1349.3 870.1 L1349.9 882.7 L1350.4 873.6 L1351.0 886.5 L1351.5 881.3 L1352.1 885.6 L1352.6 888.2 L1353.2 884.9 L1353.7 871.0 L1354.3 881.6 L1354.8 877.0 L1355.4 875.8 L1355.9 888.7 L1356.5 887.1 L1357.0 882.0 L1357.6 884.5 L1358.1 884.9 L1358.7 883.3 L1359.2 873.5 L1359.8 875.9 L1360.3 890.0 L1360.9 884.4 L1361.4 884.3 L1362.0 873.5 L1362.5 879.4 L1363.1 877.1 L1363.6 886.5 L1364.2 874.6 L1364.7 888.0 L1365.3 879.4 L1365.8 886.8 L1366.4 874.7 L1366.9 880.4 L1367.5 876.1 L1368.0 875.9 L1368.6 890.3 L1369.1 877.1 L1369.7 885.4 L1370.2 886.2 L1370.8 879.5 L1371.3 873.3 L1371.9 890.5 L1372.4 884.6 L1373.0 876.6 L1373.5 885.1 L1374.1 874.7 L1374.6 889.7 L1375.2 875.1 L1375.7 880.1 L1376.3 877.8 L1376.8 865.7 L1377.4 875.1 L1377.9 864.2 L1378.5 868.4 L1379.0 850.0 L1379.6 851.7 L1380.1 855.1 L1380.7 845.8 L1381.2 854.3 L1381.8 838.0 L1382.3 836.8 L1382.9 836.7 L1383.4 851.0 L1384.0 851.6 L1384.5 854.5 L1385.1 842.8 L1385.6 860.4 L1386.2 848.7 L1386.7 852.7 L1387.3 850.7 L1387.8 868.8 L1388.4 864.4 L1388.9 856.4 L1389.5 854.4 L1390.0 859.0 L1390.6 871.2 L1391.1 856.4 L1391.7 873.5 L1392.2 862.3 L1392.8 870.4 L1393.3 856.7 L1393.9 859.9 L1394.4 870.3 L1395.0 860.1 L1395.5 872.8 L1396.1 875.9 L1396.6 872.7 L1397.2 867.8 L1397.7 879.0 L1398.3 874.5 L1398.8 870.7 L1399.4 863.7 L1399.9 879.5 L1400.5 884.1 L1401.0 871.1 L1401.6 878.4 L1402.1 871.1 L1402.7 872.7 L1403.2 868.5 L1403.8 872.5 L1404.3 869.8 L1404.9 871.5 L1405.4 885.6 L1406.0 872.8 L1406.5 887.0 L1407.1 884.6 L1407.6 872.5 L1408.2 871.9 L1408.7 885.1 L1409.3 875.5 L1409.8 886.2 L1410.4 869.1 L1410.9 869.8 L1411.5 873.4 L1412.0 884.6 L1412.6 876.0 L1413.1 875.4 L1413.7 888.1 L1414.2 875.2 L1414.8 871.8 L1415.3 873.6 L1415.9 885.5 L1416.4 872.2 L1417.0 886.1 L1417.5 877.9 L1418.1 873.4 L1418.6 890.8 L1419.2 873.3 L1419.7 887.7 L1420.3 890.9 L1420.8 873.7 L1421.4 889.8 L1421.9 876.3 L1422.5 874.0 L1423.0 878.0 L1423.6 875.8 L1424.1 888.8 L1424.7 888.4 L1425.2 876.6 L1425.8 887.8 L1426.3 875.5 L1426.9 878.7" stroke="#000" stroke-width="1.1" fill="none"/>
<path d="M1236.9 979.3 L1237.4 981.1 L1237.8 979.1 L1238.3 980.5 L1238.7 979.0 L1239.2 979.4 L1239.6 981.2 L1240.1 979.3 L1240.5 980.3 L1241.0 979.9 L1241.4 979.9 L1241.9 980.0 L1242.3 966.5 L1242.8 924.6 L1243.2 918.9 L1243.7 937.4 L1244.1 931.1 L1244.6 950.4 L1245.0 948.9 L1245.5 954.5 L1245.9 958.5 L1246.4 931.2 L1246.8 924.9 L1247.3 922.3 L1247.7 937.6 L1248.2 948.8 L1248.6 951.2 L1249.1 949.1 L1249.5 961.0 L1250.0 961.9 L1250.4 961.9 L1250.9 967.9 L1251.3 966.8 L1251.8 964.3 L1252.2 969.5 L1252.7 973.0 L1253.1 973.6 L1253.6 972.4 L1254.0 973.3 L1254.5 973.6 L1254.9 975.1 L1255.4 975.5 L1255.8 976.4 L1256.3 976.7 L1256.7 972.9 L1257.2 932.4 L1257.6 915.2 L1258.1 936.6 L1258.5 938.9 L1259.0 932.9 L1259.4 944.4 L1259.9 948.9 L1260.3 952.5 L1260.8 956.4 L1261.2 959.3 L1261.7 959.0 L1262.1 964.7 L1262.6 969.5 L1263.0 970.7 L1263.5 968.1 L1263.9 967.7 L1264.4 972.5 L1264.8 973.9 L1265.3 975.2 L1265.7 974.9 L1266.2 977.0 L1266.6 975.3 L1267.1 977.7 L1267.5 976.6 L1268.0 978.6 L1268.4 976.9 L1268.9 979.4 L1269.3 979.1 L1269.8 979.8 L1270.2 979.0 L1270.7 978.2 L1271.1 971.9 L1271.6 932.4 L1272.0 913.6 L1272.5 915.8 L1272.9 929.7 L1273.4 934.9 L1273.8 946.4 L1274.3 945.6 L1274.7 946.9 L1275.2 953.8 L1275.6 961.3 L1276.1 962.8 L1276.5 961.6 L1277.0 962.5 L1277.4 971.0 L1277.9 971.0 L1278.3 967.9 L1278.8 974.0 L1279.2 962.2 L1279.7 940.6 L1280.1 935.6 L1280.6 931.7 L1281.0 941.2 L1281.5 945.1 L1281.9 957.1 L1282.4 956.4 L1282.8 963.3 L1283.3 962.9 L1283.7 961.4 L1284.2 969.3 L1284.6 965.2 L1285.1 972.0 L1285.5 974.3 L1286.0 974.8 L1286.4 963.4 L1286.9 928.5 L1287.3 928.1 L1287.8 922.7 L1288.2 933.6 L1288.7 936.1 L1289.1 944.5 L1289.6 956.0 L1290.0 951.8 L1290.5 958.1 L1290.9 964.8 L1291.4 966.5 L1291.8 967.8 L1292.3 970.7 L1292.7 971.3 L1293.2 970.6 L1293.6 974.6 L1294.1 974.2 L1294.5 975.0 L1295.0 975.4 L1295.4 974.6 L1295.9 976.3 L1296.3 977.0 L1296.8 976.0 L1297.2 977.3 L1297.7 978.6 L1298.1 979.0 L1298.6 979.3 L1299.0 977.5 L1299.5 979.0 L1299.9 979.8 L1300.4 944.1 L1300.8 909.4 L1301.3 917.1 L1301.7 927.4 L1302.2 934.4 L1302.6 933.9 L1303.1 939.5 L1303.5 947.1 L1304.0 954.1 L1304.4 949.5 L1304.9 956.1 L1305.3 963.4 L1305.8 960.6 L1306.2 962.8 L1306.7 965.2 L1307.1 968.7 L1307.6 973.9 L1308.0 970.7 L1308.5 973.9 L1308.9 974.5 L1309.4 974.7 L1309.8 975.6 L1310.3 977.1 L1310.7 977.7 L1311.2 978.0 L1311.6 976.5 L1312.1 977.3 L1312.5 977.8 L1313.0 977.5 L1313.4 979.1 L1313.9 977.7 L1314.3 979.8 L1314.8 979.2 L1315.2 951.7 L1315.7 914.2 L1316.1 923.6 L1316.6 932.5 L1317.0 929.5 L1317.5 939.3 L1317.9 945.9 L1318.4 942.3 L1318.8 953.3 L1319.3 957.7 L1319.7 956.9 L1320.2 961.5 L1320.6 967.5 L1321.1 963.7 L1321.5 964.2 L1322.0 973.0 L1322.4 972.3 L1322.9 972.5 L1323.3 972.4 L1323.8 974.6 L1324.2 973.9 L1324.7 974.8 L1325.1 976.3 L1325.6 975.8 L1326.0 978.2 L1326.5 977.3 L1326.9 978.1 L1327.4 979.2 L1327.8 971.2 L1328.3 930.5 L1328.7 923.6 L1329.2 927.5 L1329.6 938.8 L1330.1 935.8 L1330.5 943.5 L1331.0 948.3 L1331.4 953.3 L1331.9 950.8 L1332.3 961.6 L1332.8 962.7 L1333.2 962.2 L1333.7 966.0 L1334.1 967.6 L1334.6 973.1 L1335.0 974.3 L1335.5 973.0 L1335.9 973.2 L1336.4 975.4 L1336.8 974.8 L1337.3 976.8 L1337.7 976.3 L1338.2 977.2 L1338.6 977.3 L1339.1 978.0 L1339.5 977.6 L1340.0 978.4 L1340.4 979.0 L1340.9 978.3 L1341.3 979.1 L1341.8 978.9 L1342.2 979.1 L1342.7 949.1 L1343.1 921.3 L1343.6 937.4 L1344.0 943.0 L1344.5 940.7 L1344.9 945.6 L1345.4 949.3 L1345.8 948.4 L1346.3 955.7 L1346.7 965.8 L1347.2 933.2 L1347.6 925.1 L1348.1 934.0 L1348.5 942.0 L1349.0 948.8 L1349.4 953.8 L1349.9 950.8 L1350.3 963.1 L1350.8 966.8 L1351.2 961.8 L1351.7 960.1 L1352.1 970.1 L1352.6 967.0 L1353.0 970.9 L1353.5 971.7 L1353.9 962.2 L1354.4 935.5 L1354.8 927.5 L1355.3 940.7 L1355.7 943.2 L1356.2 946.9 L1356.6 954.7 L1357.1 951.5 L1357.5 962.3 L1358.0 965.0 L1358.4 966.0 L1358.9 967.1 L1359.3 965.9 L1359.8 972.8 L1360.2 974.7 L1360.7 973.1 L1361.1 974.4 L1361.6 974.4 L1362.0 975.2 L1362.5 975.5 L1362.9 975.5 L1363.4 977.4 L1363.8 977.4 L1364.3 976.7 L1364.7 977.2 L1365.2 977.4 L1365.6 978.9 L1366.1 978.8 L1366.5 978.0 L1367.0 960.3 L1367.4 919.3 L1367.9 914.8 L1368.3 928.1 L1368.8 941.8 L1369.2 941.7 L1369.7 912.7 L1370.1 927.4 L1370.6 932.7 L1371.0 938.4 L1371.5 951.7 L1371.9 951.4 L1372.4 955.0 L1372.8 953.8 L1373.3 960.3 L1373.7 959.0 L1374.2 963.6 L1374.6 963.9 L1375.1 965.0 L1375.5 968.3 L1376.0 970.4 L1376.4 971.3 L1376.9 973.2 L1377.3 974.8 L1377.8 975.2 L1378.2 976.7 L1378.7 977.2 L1379.1 976.6 L1379.6 977.0 L1380.0 978.1 L1380.5 978.7 L1380.9 978.2 L1381.4 968.5 L1381.8 926.6 L1382.3 912.9 L1382.7 927.4 L1383.2 923.2 L1383.6 937.9 L1384.1 949.5 L1384.5 948.9 L1385.0 954.7 L1385.4 950.1 L1385.9 962.4 L1386.3 961.2 L1386.8 965.3 L1387.2 964.4 L1387.7 969.2 L1388.1 971.4 L1388.6 972.2 L1389.0 971.6 L1389.5 973.4 L1389.9 974.3 L1390.4 974.2 L1390.8 974.7 L1391.3 975.1 L1391.7 975.7 L1392.2 976.2 L1392.6 977.4 L1393.1 977.9 L1393.5 978.5 L1394.0 978.1 L1394.4 979.2 L1394.9 977.6 L1395.3 967.5 L1395.8 931.3 L1396.2 911.1 L1396.7 917.7 L1397.1 922.7 L1397.6 936.3 L1398.0 945.7 L1398.5 939.1 L1398.9 947.9 L1399.4 957.6 L1399.8 962.6 L1400.3 962.1 L1400.7 960.1 L1401.2 961.9 L1401.6 965.5 L1402.1 970.5 L1402.5 968.7 L1403.0 968.8 L1403.4 973.7 L1403.9 974.9 L1404.3 974.3 L1404.8 976.0 L1405.2 975.9 L1405.7 976.6 L1406.1 977.8 L1406.6 978.4 L1407.0 977.2 L1407.5 977.3 L1407.9 979.2 L1408.4 978.7 L1408.8 943.3 L1409.3 909.9 L1409.7 918.9 L1410.2 929.8 L1410.6 933.5 L1411.1 940.7 L1411.5 944.9 L1412.0 949.4 L1412.4 963.2 L1412.9 952.6 L1413.3 962.6 L1413.8 963.7 L1414.2 970.6 L1414.7 964.7 L1415.1 970.8 L1415.6 974.5 L1416.0 971.0 L1416.5 971.9 L1416.9 974.5 L1417.4 940.6 L1417.8 922.2 L1418.3 936.8 L1418.7 935.6 L1419.2 949.7 L1419.6 955.5 L1420.1 948.6 L1420.5 954.8 L1421.0 952.0 L1421.4 958.7 L1421.9 943.8 L1422.3 938.7 L1422.8 942.1 L1423.2 944.5 L1423.7 954.0 L1424.1 955.6 L1424.6 947.8 L1425.0 963.8 L1425.5 962.9 L1425.9 963.3 L1426.4 968.5 L1426.8 964.6 L1427.3 971.9 L1427.7 968.7 L1428.2 971.7 L1428.6 973.8 L1429.1 974.5 L1429.5 974.5" stroke="#000" stroke-width="1.3" fill="none"/>
<path d="M1239.3 1059.2 L1239.7 1058.8 L1240.1 1057.8 L1240.5 1061.1 L1240.9 1057.3 L1241.3 1059.5 L1241.7 1061.2 L1242.1 1057.7 L1242.5 1059.7 L1242.9 1060.0 L1243.3 1057.5 L1243.7 1058.9 L1244.1 1060.4 L1244.5 1059.2 L1244.9 1060.4 L1245.3 1057.9 L1245.7 1058.2 L1246.1 1057.6 L1246.5 1059.3 L1246.9 1061.1 L1247.3 1059.6 L1247.7 1060.3 L1248.1 1058.5 L1248.5 1060.1 L1248.9 1057.2 L1249.3 1057.9 L1249.7 1059.5 L1250.1 1059.7 L1250.5 1058.3 L1250.9 1056.7 L1251.3 1057.4 L1251.7 1057.1 L1252.1 1053.4 L1252.5 1045.4 L1252.9 1045.1 L1253.3 1051.1 L1253.7 1053.3 L1254.1 1051.3 L1254.5 1053.8 L1254.9 1055.2 L1255.3 1053.7 L1255.7 1055.8 L1256.1 1058.2 L1256.5 1054.9 L1256.9 1057.2 L1257.3 1055.2 L1257.7 1057.2 L1258.1 1058.6 L1258.5 1055.6 L1258.9 1054.7 L1259.3 1055.0 L1259.7 1057.0 L1260.1 1054.6 L1260.5 1054.9 L1260.9 1056.7 L1261.3 1058.5 L1261.7 1056.3 L1262.1 1056.1 L1262.5 1057.2 L1262.9 1046.5 L1263.3 1017.5 L1263.7 1018.2 L1264.1 1029.8 L1264.5 1038.6 L1264.9 1039.9 L1265.3 1046.0 L1265.7 1049.1 L1266.1 1049.2 L1266.5 1051.3 L1266.9 1055.6 L1267.3 1056.5 L1267.7 1053.3 L1268.1 1056.3 L1268.5 1057.8 L1268.9 1055.0 L1269.3 1056.8 L1269.7 1054.5 L1270.1 1056.1 L1270.5 1057.6 L1270.9 1057.3 L1271.3 1058.3 L1271.7 1055.3 L1272.1 1056.6 L1272.5 1058.9 L1272.9 1057.8 L1273.3 1057.3 L1273.7 1057.2 L1274.1 1059.8 L1274.5 1058.1 L1274.9 1055.7 L1275.3 1059.3 L1275.7 1057.3 L1276.1 1057.8 L1276.5 1057.0 L1276.9 1058.1 L1277.3 1057.6 L1277.7 1056.7 L1278.1 1059.1 L1278.5 1056.9 L1278.9 1060.0 L1279.3 1050.2 L1279.7 1030.5 L1280.1 1033.0 L1280.5 1038.9 L1280.9 1045.2 L1281.3 1047.2 L1281.7 1052.3 L1282.1 1053.0 L1282.5 1053.8 L1282.9 1058.2 L1283.3 1056.6 L1283.7 1057.1 L1284.1 1059.7 L1284.5 1057.9 L1284.9 1059.5 L1285.3 1057.5 L1285.7 1060.6 L1286.1 1058.2 L1286.5 1057.3 L1286.9 1061.4 L1287.3 1057.9 L1287.7 1061.4 L1288.1 1061.5 L1288.5 1059.9 L1288.9 1057.2 L1289.3 1057.4 L1289.7 1058.0 L1290.1 1058.8 L1290.5 1059.7 L1290.9 1061.3 L1291.3 1058.5 L1291.7 1057.5 L1292.1 1059.3 L1292.5 1057.4 L1292.9 1057.1 L1293.3 1059.1 L1293.7 1059.6 L1294.1 1056.8 L1294.5 1058.4 L1294.9 1059.4 L1295.3 1059.6 L1295.7 1057.9 L1296.1 1060.0 L1296.5 1056.8 L1296.9 1059.1 L1297.3 1059.2 L1297.7 1059.6 L1298.1 1035.6 L1298.5 1021.9 L1298.9 1030.6 L1299.3 1039.3 L1299.7 1042.5 L1300.1 1048.1 L1300.5 1048.2 L1300.9 1053.1 L1301.3 1052.0 L1301.7 1052.1 L1302.1 1053.5 L1302.5 1055.3 L1302.9 1028.2 L1303.3 1008.2 L1303.7 1019.9 L1304.1 1030.6 L1304.5 1039.5 L1304.9 1042.8 L1305.3 1048.2 L1305.7 1046.9 L1306.1 1053.2 L1306.5 1054.2 L1306.9 1046.3 L1307.3 1029.8 L1307.7 1037.0 L1308.1 1043.8 L1308.5 1043.9 L1308.9 1049.3 L1309.3 1050.9 L1309.7 1051.4 L1310.1 1054.4 L1310.5 1055.2 L1310.9 1053.2 L1311.3 1056.3 L1311.7 1055.5 L1312.1 1056.0 L1312.5 1056.9 L1312.9 1054.5 L1313.3 1057.0 L1313.7 1056.1 L1314.1 1058.5 L1314.5 1055.7 L1314.9 1058.4 L1315.3 1058.1 L1315.7 1057.7 L1316.1 1058.9 L1316.5 1055.3 L1316.9 1057.9 L1317.3 1058.0 L1317.7 1058.4 L1318.1 1057.3 L1318.5 1055.9 L1318.9 1056.5 L1319.3 1058.4 L1319.7 1056.6 L1320.1 1056.2 L1320.5 1057.6 L1320.9 1058.2 L1321.3 1058.5 L1321.7 1056.4 L1322.1 1059.8 L1322.5 1057.9 L1322.9 1060.0 L1323.3 1056.6 L1323.7 1051.1 L1324.1 1024.0 L1324.5 1031.9 L1324.9 1039.8 L1325.3 1044.8 L1325.7 1045.9 L1326.1 1050.0 L1326.5 1051.8 L1326.9 1055.9 L1327.3 1054.6 L1327.7 1055.7 L1328.1 1055.9 L1328.5 1056.4 L1328.9 1060.4 L1329.3 1060.8 L1329.7 1058.4 L1330.1 1060.2 L1330.5 1059.1 L1330.9 1059.4 L1331.3 1058.8 L1331.7 1060.0 L1332.1 1058.2 L1332.5 1058.3 L1332.9 1059.4 L1333.3 1058.0 L1333.7 1059.1 L1334.1 1061.2 L1334.5 1057.1 L1334.9 1041.2 L1335.3 1025.2 L1335.7 1031.2 L1336.1 1038.9 L1336.5 1046.5 L1336.9 1049.1 L1337.3 1050.0 L1337.7 1051.3 L1338.1 1053.6 L1338.5 1054.7 L1338.9 1057.6 L1339.3 1054.8 L1339.7 1026.5 L1340.1 1027.0 L1340.5 1035.8 L1340.9 1041.9 L1341.3 1046.7 L1341.7 1050.3 L1342.1 1049.0 L1342.5 1049.6 L1342.9 1029.3 L1343.3 1035.3 L1343.7 1040.7 L1344.1 1044.5 L1344.5 1049.8 L1344.9 1050.2 L1345.3 1051.0 L1345.7 1052.6 L1346.1 1054.3 L1346.5 1055.6 L1346.9 1055.8 L1347.3 1055.6 L1347.7 1054.7 L1348.1 1055.8 L1348.5 1047.9 L1348.9 1020.9 L1349.3 1026.0 L1349.7 1032.6 L1350.1 1040.9 L1350.5 1045.0 L1350.9 1045.9 L1351.3 1050.5 L1351.7 1050.9 L1352.1 1052.7 L1352.5 1054.3 L1352.9 1055.7 L1353.3 1052.2 L1353.7 1027.6 L1354.1 1026.8 L1354.5 1035.8 L1354.9 1040.5 L1355.3 1043.2 L1355.7 1048.6 L1356.1 1050.5 L1356.5 1053.9 L1356.9 1052.7 L1357.3 1055.9 L1357.7 1055.2 L1358.1 1053.9 L1358.5 1057.0 L1358.9 1055.4 L1359.3 1056.8 L1359.7 1055.0 L1360.1 1054.9 L1360.5 1059.0 L1360.9 1055.3 L1361.3 1055.9 L1361.7 1056.1 L1362.1 1055.9 L1362.5 1035.7 L1362.9 1027.8 L1363.3 1034.9 L1363.7 1040.2 L1364.1 1047.0 L1364.5 1048.8 L1364.9 1049.8 L1365.3 1054.1 L1365.7 1054.1 L1366.1 1054.8 L1366.5 1055.8 L1366.9 1056.7 L1367.3 1056.3 L1367.7 1058.5 L1368.1 1060.0 L1368.5 1058.9 L1368.9 1056.6 L1369.3 1059.7 L1369.7 1056.9 L1370.1 1059.0 L1370.5 1060.8 L1370.9 1060.0 L1371.3 1061.1 L1371.7 1060.5 L1372.1 1058.4 L1372.5 1057.9 L1372.9 1059.2 L1373.3 1060.3 L1373.7 1057.6 L1374.1 1027.8 L1374.5 1021.8 L1374.9 1030.3 L1375.3 1039.0 L1375.7 1044.3 L1376.1 1050.0 L1376.5 1049.0 L1376.9 1051.9 L1377.3 1056.1 L1377.7 1056.8 L1378.1 1055.1 L1378.5 1055.9 L1378.9 1056.6 L1379.3 1058.4 L1379.7 1060.2 L1380.1 1057.3 L1380.5 1057.3 L1380.9 1059.4 L1381.3 1058.3 L1381.7 1060.1 L1382.1 1060.8 L1382.5 1060.4 L1382.9 1059.4 L1383.3 1058.4 L1383.7 1056.4 L1384.1 1059.6 L1384.5 1057.7 L1384.9 1037.2 L1385.3 1028.0 L1385.7 1037.5 L1386.1 1041.6 L1386.5 1047.4 L1386.9 1050.8 L1387.3 1049.2 L1387.7 1052.1 L1388.1 1055.6 L1388.5 1055.9 L1388.9 1057.4 L1389.3 1054.4 L1389.7 1056.2 L1390.1 1058.2 L1390.5 1056.6 L1390.9 1035.8 L1391.3 1023.4 L1391.7 1029.2 L1392.1 1035.6 L1392.5 1044.1 L1392.9 1046.6 L1393.3 1047.7 L1393.7 1052.5 L1394.1 1051.5 L1394.5 1051.9 L1394.9 1053.4 L1395.3 1052.8 L1395.7 1030.0 L1396.1 1011.6 L1396.5 1022.4 L1396.9 1033.6 L1397.3 1036.2 L1397.7 1041.6 L1398.1 1045.1 L1398.5 1049.6 L1398.9 1049.9 L1399.3 1053.4 L1399.7 1053.9 L1400.1 1054.9 L1400.5 1056.7 L1400.9 1056.9 L1401.3 1057.9 L1401.7 1043.5 L1402.1 1033.0 L1402.5 1041.8 L1402.9 1044.0 L1403.3 1046.9 L1403.7 1050.3 L1404.1 1050.9 L1404.5 1055.2 L1404.9 1055.3 L1405.3 1053.8 L1405.7 1058.2 L1406.1 1056.7 L1406.5 1043.6 L1406.9 1030.0 L1407.3 1039.1 L1407.7 1042.0 L1408.1 1044.7 L1408.5 1048.6 L1408.9 1050.3 L1409.3 1054.0 L1409.7 1054.4 L1410.1 1057.7 L1410.5 1055.6 L1410.9 1055.3 L1411.3 1057.7 L1411.7 1056.5 L1412.1 1057.6 L1412.5 1057.4 L1412.9 1057.4 L1413.3 1059.5 L1413.7 1060.9 L1414.1 1058.5 L1414.5 1059.8 L1414.9 1058.5 L1415.3 1061.1 L1415.7 1059.6 L1416.1 1057.3 L1416.5 1060.5 L1416.9 1058.2 L1417.3 1057.5 L1417.7 1057.4 L1418.1 1061.0 L1418.5 1060.4 L1418.9 1058.9 L1419.3 1059.7 L1419.7 1060.4 L1420.1 1057.6 L1420.5 1060.3 L1420.9 1060.3 L1421.3 1061.3 L1421.7 1057.4 L1422.1 1059.6 L1422.5 1059.3 L1422.9 1060.7 L1423.3 1058.6 L1423.7 1059.8 L1424.1 1060.8 L1424.5 1058.3 L1424.9 1059.0 L1425.3 1060.6 L1425.7 1056.7 L1426.1 1060.8 L1426.5 1057.8 L1426.9 1058.3 L1427.3 1057.5 L1427.7 1059.7 L1428.1 1058.4 L1428.5 1059.3 L1428.9 1056.4 L1429.3 1059.7 L1429.7 1059.4 L1430.1 1058.6 L1430.5 1056.6 L1430.9 1056.6 L1431.3 1057.4 L1431.7 1048.5 L1432.1 1033.2 L1432.5 1035.1 L1432.9 1043.2 L1433.3 1044.0" stroke="#000" stroke-width="1.25" fill="none"/>
<path d="M1446.6 820.8 V860 H1453.4" stroke="#111" stroke-width="2" fill="none"/>
<text x="1441.5" y="839.5" font-size="14" text-anchor="middle" fill="#111" textLength="49.8" lengthAdjust="spacingAndGlyphs" transform="rotate(-90 1441.5 839.5)" font-style="italic">4% ΔF/F</text>
<text x="1445.4" y="874.6" font-size="14" fill="#111" textLength="13.8" lengthAdjust="spacingAndGlyphs">2s</text>
</svg></body></html>
